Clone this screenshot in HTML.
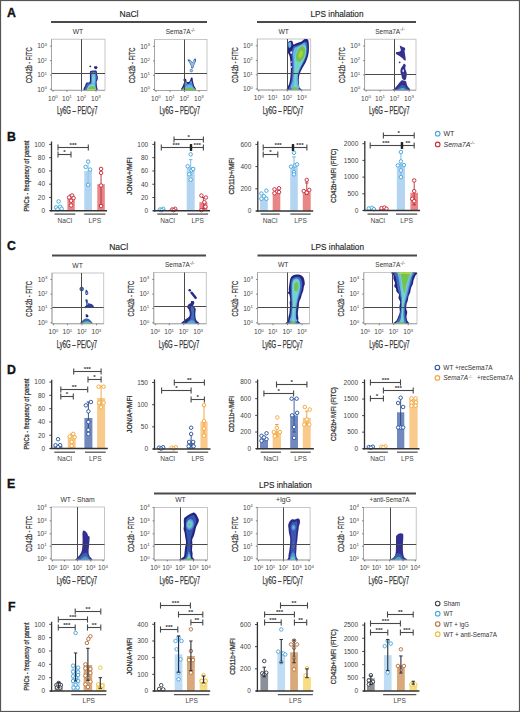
<!DOCTYPE html>
<html><head><meta charset="utf-8"><style>
html,body{margin:0;padding:0;background:#fff;}
svg{display:block;font-family:"Liberation Sans",sans-serif;}
</style></head><body>
<svg width="520" height="712" viewBox="0 0 520 712">
<rect x="0.5" y="0.5" width="519" height="711" fill="none" stroke="#555" stroke-width="1.2" />
<text x="7" y="17" font-size="12.3" text-anchor="start" fill="#111" font-weight="bold" stroke="#111" stroke-width="0.35">A</text>
<line x1="51" y1="22.0" x2="207" y2="22.0" stroke="#4a4a4a" stroke-width="1.8"/>
<text x="129.0" y="17" font-size="9" text-anchor="middle" fill="#262626" font-weight="normal" textLength="19" lengthAdjust="spacingAndGlyphs" stroke="#262626" stroke-width="0.15">NaCl</text>
<line x1="257" y1="22.0" x2="416" y2="22.0" stroke="#4a4a4a" stroke-width="1.8"/>
<text x="337" y="17" font-size="9" text-anchor="middle" fill="#262626" font-weight="normal" textLength="53" lengthAdjust="spacingAndGlyphs" stroke="#262626" stroke-width="0.15">LPS inhalation</text>
<rect x="51.5" y="39.2" width="53.5" height="51.099999999999994" fill="#fff" stroke="#b8b8b8" stroke-width="0.8" />
<clipPath id="c51_39"><rect x="51.5" y="39.2" width="53.5" height="51.099999999999994"/></clipPath><g clip-path="url(#c51_39)">
<path d="M90.20,71.20 C90.80,70.72 92.43,70.63 93.50,70.60 C94.57,70.57 96.00,70.37 96.60,71.00 C97.20,71.63 96.88,73.35 97.10,74.40 C97.32,75.45 97.83,76.37 97.90,77.30 C97.97,78.23 97.72,79.22 97.50,80.00 C97.28,80.78 96.70,81.00 96.60,82.00 C96.50,83.00 96.90,84.57 96.90,86.00 C96.90,87.43 98.75,89.83 96.60,90.60 C94.45,91.37 85.87,91.53 84.00,90.60 C82.13,89.67 84.97,86.33 85.40,85.00 C85.83,83.67 85.90,83.10 86.60,82.60 C87.30,82.10 89.05,82.93 89.60,82.00 C90.15,81.07 89.85,78.42 89.90,77.00 C89.95,75.58 89.85,74.47 89.90,73.50 C89.95,72.53 89.60,71.68 90.20,71.20 Z" fill="#26237f" stroke="none" stroke-width="1" />
<path d="M91.00,72.00 C91.43,71.60 92.67,71.55 93.50,71.60 C94.33,71.65 95.53,71.73 96.00,72.30 C96.47,72.87 96.13,74.13 96.30,75.00 C96.47,75.87 96.98,76.67 97.00,77.50 C97.02,78.33 96.60,79.25 96.40,80.00 C96.20,80.75 95.87,81.00 95.80,82.00 C95.73,83.00 96.00,84.57 96.00,86.00 C96.00,87.43 97.60,89.83 95.80,90.60 C94.00,91.37 86.77,91.43 85.20,90.60 C83.63,89.77 86.03,86.78 86.40,85.60 C86.77,84.42 86.70,83.97 87.40,83.50 C88.10,83.03 90.00,83.88 90.60,82.80 C91.20,81.72 90.95,78.47 91.00,77.00 C91.05,75.53 90.90,74.83 90.90,74.00 C90.90,73.17 90.57,72.40 91.00,72.00 Z" fill="#3e6cbd" stroke="none" stroke-width="1" />
<path d="M92.00,73.50 C92.45,72.67 93.92,72.58 94.50,73.00 C95.08,73.42 95.33,74.67 95.50,76.00 C95.67,77.33 95.55,79.33 95.50,81.00 C95.45,82.67 95.37,84.40 95.20,86.00 C95.03,87.60 95.78,89.83 94.50,90.60 C93.22,91.37 88.50,91.45 87.50,90.60 C86.50,89.75 87.87,86.63 88.50,85.50 C89.13,84.37 90.75,85.05 91.30,83.80 C91.85,82.55 91.68,79.72 91.80,78.00 C91.92,76.28 91.55,74.33 92.00,73.50 Z" fill="#69b6e6" stroke="none" stroke-width="1" />
<path d="M92.50,76.00 C92.80,75.00 93.87,75.33 94.20,76.00 C94.53,76.67 94.57,78.83 94.50,80.00 C94.43,81.17 94.15,82.67 93.80,83.00 C93.45,83.33 92.62,83.17 92.40,82.00 C92.18,80.83 92.20,77.00 92.50,76.00 Z" fill="#72d4cc" stroke="none" stroke-width="1" />
<path d="M87.30,90.60 C86.12,89.97 87.68,87.80 88.30,86.80 C88.92,85.80 90.08,85.00 91.00,84.60 C91.92,84.20 93.07,84.00 93.80,84.40 C94.53,84.80 95.13,85.97 95.40,87.00 C95.67,88.03 96.75,90.00 95.40,90.60 C94.05,91.20 88.48,91.23 87.30,90.60 Z" fill="#72d4cc" stroke="none" stroke-width="1" />
<path d="M88.00,90.60 C86.97,90.13 88.42,88.52 89.00,87.80 C89.58,87.08 90.67,86.52 91.50,86.30 C92.33,86.08 93.38,86.13 94.00,86.50 C94.62,86.87 95.00,87.82 95.20,88.50 C95.40,89.18 96.40,90.25 95.20,90.60 C94.00,90.95 89.03,91.07 88.00,90.60 Z" fill="#76c24e" stroke="none" stroke-width="1" />
<path d="M85.80,90.60 C84.55,90.37 86.72,89.43 88.00,89.20 C89.28,88.97 92.25,88.97 93.50,89.20 C94.75,89.43 96.78,90.37 95.50,90.60 C94.22,90.83 87.05,90.83 85.80,90.60 Z" fill="#cfe040" stroke="none" stroke-width="1" />
<ellipse cx="90.3" cy="66.4" rx="0.9" ry="0.8" fill="#26237f" transform="rotate(0 90.3 66.4)"/>
<path d="M94.00,66.80 C94.27,66.40 95.60,66.13 96.20,66.20 C96.80,66.27 97.60,66.70 97.60,67.20 C97.60,67.70 96.70,68.97 96.20,69.20 C95.70,69.43 94.97,69.00 94.60,68.60 C94.23,68.20 93.73,67.20 94.00,66.80 Z" fill="#26237f" stroke="none" stroke-width="1" />
</g>
<line x1="81.5" y1="39.2" x2="81.5" y2="90.3" stroke="#4a4a4a" stroke-width="1.0"/>
<line x1="51.5" y1="73.5" x2="105" y2="73.5" stroke="#4a4a4a" stroke-width="1.0"/>
<line x1="51.5" y1="39.2" x2="51.5" y2="90.3" stroke="#a0a0a0" stroke-width="0.9"/>
<line x1="51.5" y1="90.3" x2="105" y2="90.3" stroke="#a0a0a0" stroke-width="0.9"/>
<line x1="50.0" y1="89.3" x2="51.5" y2="89.3" stroke="#666" stroke-width="0.8"/>
<text x="47.0" y="91.6" font-size="6.6" text-anchor="end" fill="#444">10<tspan dy="-2.5" font-size="4.4">0</tspan></text>
<line x1="50.0" y1="75.1" x2="51.5" y2="75.1" stroke="#666" stroke-width="0.8"/>
<text x="47.0" y="77.39999999999999" font-size="6.6" text-anchor="end" fill="#444">10<tspan dy="-2.5" font-size="4.4">1</tspan></text>
<line x1="50.0" y1="60.699999999999996" x2="51.5" y2="60.699999999999996" stroke="#666" stroke-width="0.8"/>
<text x="47.0" y="62.99999999999999" font-size="6.6" text-anchor="end" fill="#444">10<tspan dy="-2.5" font-size="4.4">2</tspan></text>
<line x1="50.0" y1="46.099999999999994" x2="51.5" y2="46.099999999999994" stroke="#666" stroke-width="0.8"/>
<text x="47.0" y="48.39999999999999" font-size="6.6" text-anchor="end" fill="#444">10<tspan dy="-2.5" font-size="4.4">3</tspan></text>
<line x1="53.0" y1="90.3" x2="53.0" y2="91.8" stroke="#666" stroke-width="0.8"/>
<text x="52.9" y="100.6" font-size="6.6" text-anchor="middle" fill="#444">10<tspan dy="-2.5" font-size="4.4">0</tspan></text>
<line x1="67.0" y1="90.3" x2="67.0" y2="91.8" stroke="#666" stroke-width="0.8"/>
<text x="66.9" y="100.6" font-size="6.6" text-anchor="middle" fill="#444">10<tspan dy="-2.5" font-size="4.4">1</tspan></text>
<line x1="81.5" y1="90.3" x2="81.5" y2="91.8" stroke="#666" stroke-width="0.8"/>
<text x="81.4" y="100.6" font-size="6.6" text-anchor="middle" fill="#444">10<tspan dy="-2.5" font-size="4.4">2</tspan></text>
<line x1="96.0" y1="90.3" x2="96.0" y2="91.8" stroke="#666" stroke-width="0.8"/>
<text x="95.9" y="100.6" font-size="6.6" text-anchor="middle" fill="#444">10<tspan dy="-2.5" font-size="4.4">3</tspan></text>
<text x="28.8" y="65.25" font-size="8.9" text-anchor="middle" fill="#333" font-weight="normal" transform="rotate(-90 28.8 65.25)" textLength="35.5" lengthAdjust="spacingAndGlyphs" dominant-baseline="central" stroke="#333" stroke-width="0.25">CD42b - FITC</text>
<text x="77.25" y="114.19999999999999" font-size="10.1" text-anchor="middle" fill="#333" font-weight="normal" textLength="40.5" lengthAdjust="spacingAndGlyphs" stroke="#333" stroke-width="0.25">Ly6G – PE/Cy7</text>
<text x="77.95" y="34.1" font-size="6.8" text-anchor="middle" fill="#333" font-weight="normal" >WT</text>
<rect x="154.5" y="39.5" width="52.5" height="51.0" fill="#fff" stroke="#b8b8b8" stroke-width="0.8" />
<clipPath id="c154_39"><rect x="154.5" y="39.5" width="52.5" height="51.0"/></clipPath><g clip-path="url(#c154_39)">
<path d="M187.60,59.80 C187.63,59.32 188.75,59.37 189.40,59.60 C190.05,59.83 190.93,60.80 191.50,61.20 C192.07,61.60 192.35,62.37 192.80,62.00 C193.25,61.63 193.73,59.57 194.20,59.00 C194.67,58.43 195.30,58.27 195.60,58.60 C195.90,58.93 196.13,60.18 196.00,61.00 C195.87,61.82 195.17,62.58 194.80,63.50 C194.43,64.42 194.10,65.72 193.80,66.50 C193.50,67.28 193.40,67.92 193.00,68.20 C192.60,68.48 191.77,68.65 191.40,68.20 C191.03,67.75 191.17,66.45 190.80,65.50 C190.43,64.55 189.73,63.45 189.20,62.50 C188.67,61.55 187.57,60.28 187.60,59.80 Z" fill="#3a5aa8" stroke="none" stroke-width="1" />
<path d="M188.94,60.97 C188.97,60.61 189.77,60.65 190.24,60.83 C190.71,61.00 191.34,61.73 191.75,62.03 C192.16,62.33 192.36,62.90 192.69,62.62 C193.01,62.35 193.36,60.80 193.70,60.38 C194.03,59.95 194.49,59.83 194.70,60.08 C194.92,60.33 195.09,61.26 194.99,61.88 C194.90,62.49 194.39,63.06 194.13,63.75 C193.86,64.44 193.62,65.41 193.41,66.00 C193.19,66.59 193.12,67.06 192.83,67.28 C192.54,67.49 191.94,67.61 191.68,67.28 C191.42,66.94 191.51,65.96 191.25,65.25 C190.98,64.54 190.48,63.71 190.10,63.00 C189.71,62.29 188.92,61.34 188.94,60.97 Z" fill="#8fbbe0" stroke="none" stroke-width="1" />
<circle cx="191.3" cy="70.6" r="1.3" fill="#a8cce8" stroke="#4a6fae" stroke-width="0.7"/>
<path d="M181.80,90.60 C179.68,89.83 182.40,87.43 182.80,86.00 C183.20,84.57 184.10,83.00 184.20,82.00 C184.30,81.00 183.33,80.57 183.40,80.00 C183.47,79.43 184.13,78.70 184.60,78.60 C185.07,78.50 185.87,78.92 186.20,79.40 C186.53,79.88 186.13,81.07 186.60,81.50 C187.07,81.93 188.37,82.33 189.00,82.00 C189.63,81.67 190.03,80.23 190.40,79.50 C190.77,78.77 190.83,77.85 191.20,77.60 C191.57,77.35 192.32,77.43 192.60,78.00 C192.88,78.57 192.67,79.75 192.90,81.00 C193.13,82.25 193.57,83.90 194.00,85.50 C194.43,87.10 197.53,89.75 195.50,90.60 C193.47,91.45 183.92,91.37 181.80,90.60 Z" fill="#26237f" stroke="none" stroke-width="1" />
<path d="M183.24,89.82 C181.55,89.28 183.72,87.60 184.04,86.60 C184.36,85.60 185.08,84.50 185.16,83.80 C185.24,83.10 184.47,82.80 184.52,82.40 C184.57,82.00 185.11,81.49 185.48,81.42 C185.85,81.35 186.49,81.64 186.76,81.98 C187.03,82.32 186.71,83.15 187.08,83.45 C187.45,83.75 188.49,84.03 189.00,83.80 C189.51,83.57 189.83,82.56 190.12,82.05 C190.41,81.54 190.47,80.89 190.76,80.72 C191.05,80.55 191.65,80.60 191.88,81.00 C192.11,81.40 191.93,82.22 192.12,83.10 C192.31,83.97 192.65,85.13 193.00,86.25 C193.35,87.37 195.83,89.22 194.20,89.82 C192.57,90.41 184.93,90.36 183.24,89.82 Z" fill="#4d8fcf" stroke="none" stroke-width="1" />
<path d="M184.00,90.60 C182.63,89.92 185.08,87.43 186.00,86.50 C186.92,85.57 188.42,85.00 189.50,85.00 C190.58,85.00 191.72,85.57 192.50,86.50 C193.28,87.43 195.62,89.92 194.20,90.60 C192.78,91.28 185.37,91.28 184.00,90.60 Z" fill="#69b6e6" stroke="none" stroke-width="1" />
<path d="M181.80,90.60 C179.83,90.23 182.13,88.80 183.50,88.40 C184.87,88.00 188.17,88.17 190.00,88.20 C191.83,88.23 193.62,88.20 194.50,88.60 C195.38,89.00 197.42,90.27 195.30,90.60 C193.18,90.93 183.77,90.97 181.80,90.60 Z" fill="#76c24e" stroke="none" stroke-width="1" />
</g>
<line x1="184.5" y1="39.5" x2="184.5" y2="90.5" stroke="#4a4a4a" stroke-width="1.0"/>
<line x1="154.5" y1="73.5" x2="207" y2="73.5" stroke="#4a4a4a" stroke-width="1.0"/>
<line x1="154.5" y1="39.5" x2="154.5" y2="90.5" stroke="#a0a0a0" stroke-width="0.9"/>
<line x1="154.5" y1="90.5" x2="207" y2="90.5" stroke="#a0a0a0" stroke-width="0.9"/>
<line x1="153.0" y1="89.5" x2="154.5" y2="89.5" stroke="#666" stroke-width="0.8"/>
<text x="150.0" y="91.8" font-size="6.6" text-anchor="end" fill="#444">10<tspan dy="-2.5" font-size="4.4">0</tspan></text>
<line x1="153.0" y1="75.3" x2="154.5" y2="75.3" stroke="#666" stroke-width="0.8"/>
<text x="150.0" y="77.6" font-size="6.6" text-anchor="end" fill="#444">10<tspan dy="-2.5" font-size="4.4">1</tspan></text>
<line x1="153.0" y1="60.9" x2="154.5" y2="60.9" stroke="#666" stroke-width="0.8"/>
<text x="150.0" y="63.199999999999996" font-size="6.6" text-anchor="end" fill="#444">10<tspan dy="-2.5" font-size="4.4">2</tspan></text>
<line x1="153.0" y1="46.3" x2="154.5" y2="46.3" stroke="#666" stroke-width="0.8"/>
<text x="150.0" y="48.599999999999994" font-size="6.6" text-anchor="end" fill="#444">10<tspan dy="-2.5" font-size="4.4">3</tspan></text>
<line x1="156.0" y1="90.5" x2="156.0" y2="92.0" stroke="#666" stroke-width="0.8"/>
<text x="155.9" y="100.8" font-size="6.6" text-anchor="middle" fill="#444">10<tspan dy="-2.5" font-size="4.4">0</tspan></text>
<line x1="170.0" y1="90.5" x2="170.0" y2="92.0" stroke="#666" stroke-width="0.8"/>
<text x="169.9" y="100.8" font-size="6.6" text-anchor="middle" fill="#444">10<tspan dy="-2.5" font-size="4.4">1</tspan></text>
<line x1="184.5" y1="90.5" x2="184.5" y2="92.0" stroke="#666" stroke-width="0.8"/>
<text x="184.4" y="100.8" font-size="6.6" text-anchor="middle" fill="#444">10<tspan dy="-2.5" font-size="4.4">2</tspan></text>
<line x1="199.0" y1="90.5" x2="199.0" y2="92.0" stroke="#666" stroke-width="0.8"/>
<text x="198.9" y="100.8" font-size="6.6" text-anchor="middle" fill="#444">10<tspan dy="-2.5" font-size="4.4">3</tspan></text>
<text x="131.8" y="65.5" font-size="8.9" text-anchor="middle" fill="#333" font-weight="normal" transform="rotate(-90 131.8 65.5)" textLength="35.5" lengthAdjust="spacingAndGlyphs" dominant-baseline="central" stroke="#333" stroke-width="0.25">CD42b - FITC</text>
<text x="179.75" y="114.4" font-size="10.1" text-anchor="middle" fill="#333" font-weight="normal" textLength="40.5" lengthAdjust="spacingAndGlyphs" stroke="#333" stroke-width="0.25">Ly6G – PE/Cy7</text>
<text x="180.45" y="34.4" font-size="6.8" text-anchor="middle" fill="#333" font-weight="normal" textLength="29.5" lengthAdjust="spacingAndGlyphs" >Sema7A<tspan font-size="5" dy="-2.8">-/-</tspan></text>
<rect x="257.3" y="39" width="53.39999999999998" height="51" fill="#fff" stroke="#b8b8b8" stroke-width="0.8" />
<clipPath id="c257_39"><rect x="257.3" y="39" width="53.39999999999998" height="51"/></clipPath><g clip-path="url(#c257_39)">
<path d="M287.20,90.60 C285.17,89.42 288.77,85.77 289.30,83.50 C289.83,81.23 290.15,79.58 290.40,77.00 C290.65,74.42 290.90,71.33 290.80,68.00 C290.70,64.67 290.35,59.75 289.80,57.00 C289.25,54.25 287.97,53.42 287.50,51.50 C287.03,49.58 286.87,47.08 287.00,45.50 C287.13,43.92 287.43,42.75 288.30,42.00 C289.17,41.25 291.33,40.58 292.20,41.00 C293.07,41.42 292.87,44.08 293.50,44.50 C294.13,44.92 294.67,44.00 296.00,43.50 C297.33,43.00 300.00,42.25 301.50,41.50 C303.00,40.75 303.87,39.17 305.00,39.00 C306.13,38.83 307.67,38.42 308.30,40.50 C308.93,42.58 309.13,48.08 308.80,51.50 C308.47,54.92 307.52,57.95 306.30,61.00 C305.08,64.05 302.72,67.13 301.50,69.80 C300.28,72.47 299.38,74.23 299.00,77.00 C298.62,79.77 298.78,84.13 299.20,86.40 C299.62,88.67 303.50,89.90 301.50,90.60 C299.50,91.30 289.23,91.78 287.20,90.60 Z" fill="#26237f" stroke="none" stroke-width="1" />
<path d="M289.00,90.60 C287.58,89.33 290.50,85.43 291.00,83.00 C291.50,80.57 291.78,78.67 292.00,76.00 C292.22,73.33 292.30,70.00 292.30,67.00 C292.30,64.00 292.13,60.33 292.00,58.00 C291.87,55.67 291.25,54.83 291.50,53.00 C291.75,51.17 292.58,48.25 293.50,47.00 C294.42,45.75 295.58,46.08 297.00,45.50 C298.42,44.92 300.58,44.17 302.00,43.50 C303.42,42.83 304.62,41.42 305.50,41.50 C306.38,41.58 307.00,42.25 307.30,44.00 C307.60,45.75 307.68,49.33 307.30,52.00 C306.92,54.67 306.13,57.25 305.00,60.00 C303.87,62.75 301.70,65.83 300.50,68.50 C299.30,71.17 298.25,73.25 297.80,76.00 C297.35,78.75 297.52,82.57 297.80,85.00 C298.08,87.43 300.97,89.67 299.50,90.60 C298.03,91.53 290.42,91.87 289.00,90.60 Z" fill="#3e6cbd" stroke="none" stroke-width="1" />
<path d="M291.00,88.15 C289.87,86.99 292.20,83.40 292.60,81.16 C293.00,78.92 293.23,77.17 293.40,74.72 C293.57,72.27 293.64,69.20 293.64,66.44 C293.64,63.68 293.51,60.31 293.40,58.16 C293.29,56.01 292.80,55.25 293.00,53.56 C293.20,51.87 293.87,49.19 294.60,48.04 C295.33,46.89 296.27,47.20 297.40,46.66 C298.53,46.12 300.27,45.43 301.40,44.82 C302.53,44.21 303.49,42.90 304.20,42.98 C304.91,43.06 305.40,43.67 305.64,45.28 C305.88,46.89 305.95,50.19 305.64,52.64 C305.33,55.09 304.71,57.47 303.80,60.00 C302.89,62.53 301.16,65.37 300.20,67.82 C299.24,70.27 298.40,72.19 298.04,74.72 C297.68,77.25 297.81,80.76 298.04,83.00 C298.27,85.24 300.57,87.29 299.40,88.15 C298.23,89.01 292.13,89.32 291.00,88.15 Z" fill="#69b6e6" stroke="none" stroke-width="1" />
<path d="M294.00,90.00 C293.50,88.33 294.42,83.67 294.50,80.00 C294.58,76.33 294.42,71.83 294.50,68.00 C294.58,64.17 294.42,60.33 295.00,57.00 C295.58,53.67 296.67,49.92 298.00,48.00 C299.33,46.08 301.67,45.67 303.00,45.50 C304.33,45.33 305.58,45.25 306.00,47.00 C306.42,48.75 306.33,53.00 305.50,56.00 C304.67,59.00 302.42,62.00 301.00,65.00 C299.58,68.00 297.75,70.83 297.00,74.00 C296.25,77.17 296.42,81.33 296.50,84.00 C296.58,86.67 297.92,89.00 297.50,90.00 C297.08,91.00 294.50,91.67 294.00,90.00 Z" fill="#72d4cc" stroke="none" stroke-width="1" />
<ellipse cx="300.6" cy="54.2" rx="4.2" ry="8.2" fill="#76c24e" transform="rotate(18 300.6 54.2)"/>
<ellipse cx="300.6" cy="54.2" rx="2.0" ry="4.0" fill="#a6d23a" transform="rotate(18 300.6 54.2)"/>
<ellipse cx="291.2" cy="52.6" rx="0.9" ry="1.4" fill="#ffffff" transform="rotate(0 291.2 52.6)"/>
<ellipse cx="291.3" cy="67" rx="0.6" ry="1.0" fill="#ffffff" transform="rotate(0 291.3 67)"/>
<ellipse cx="291.1" cy="62" rx="0.5" ry="0.9" fill="#ffffff" transform="rotate(0 291.1 62)"/>
<path d="M291.50,90.60 C290.67,90.03 292.67,87.72 293.50,87.20 C294.33,86.68 295.67,86.93 296.50,87.50 C297.33,88.07 299.33,90.08 298.50,90.60 C297.67,91.12 292.33,91.17 291.50,90.60 Z" fill="#76c24e" stroke="none" stroke-width="1" />
<path d="M288.50,42.50 C288.93,41.97 290.35,41.72 290.80,42.30 C291.25,42.88 291.45,45.05 291.20,46.00 C290.95,46.95 289.80,48.08 289.30,48.00 C288.80,47.92 288.33,46.42 288.20,45.50 C288.07,44.58 288.07,43.03 288.50,42.50 Z" fill="#69b6e6" stroke="none" stroke-width="1" />
</g>
<line x1="287.5" y1="39" x2="287.5" y2="90" stroke="#4a4a4a" stroke-width="1.0"/>
<line x1="257.3" y1="73.5" x2="310.7" y2="73.5" stroke="#4a4a4a" stroke-width="1.0"/>
<line x1="257.3" y1="39" x2="257.3" y2="90" stroke="#a0a0a0" stroke-width="0.9"/>
<line x1="257.3" y1="90" x2="310.7" y2="90" stroke="#a0a0a0" stroke-width="0.9"/>
<line x1="255.8" y1="89" x2="257.3" y2="89" stroke="#666" stroke-width="0.8"/>
<text x="252.8" y="91.3" font-size="6.6" text-anchor="end" fill="#444">10<tspan dy="-2.5" font-size="4.4">0</tspan></text>
<line x1="255.8" y1="74.8" x2="257.3" y2="74.8" stroke="#666" stroke-width="0.8"/>
<text x="252.8" y="77.1" font-size="6.6" text-anchor="end" fill="#444">10<tspan dy="-2.5" font-size="4.4">1</tspan></text>
<line x1="255.8" y1="60.4" x2="257.3" y2="60.4" stroke="#666" stroke-width="0.8"/>
<text x="252.8" y="62.699999999999996" font-size="6.6" text-anchor="end" fill="#444">10<tspan dy="-2.5" font-size="4.4">2</tspan></text>
<line x1="255.8" y1="45.8" x2="257.3" y2="45.8" stroke="#666" stroke-width="0.8"/>
<text x="252.8" y="48.099999999999994" font-size="6.6" text-anchor="end" fill="#444">10<tspan dy="-2.5" font-size="4.4">3</tspan></text>
<line x1="258.8" y1="90" x2="258.8" y2="91.5" stroke="#666" stroke-width="0.8"/>
<text x="258.7" y="100.3" font-size="6.6" text-anchor="middle" fill="#444">10<tspan dy="-2.5" font-size="4.4">0</tspan></text>
<line x1="272.8" y1="90" x2="272.8" y2="91.5" stroke="#666" stroke-width="0.8"/>
<text x="272.7" y="100.3" font-size="6.6" text-anchor="middle" fill="#444">10<tspan dy="-2.5" font-size="4.4">1</tspan></text>
<line x1="287.3" y1="90" x2="287.3" y2="91.5" stroke="#666" stroke-width="0.8"/>
<text x="287.2" y="100.3" font-size="6.6" text-anchor="middle" fill="#444">10<tspan dy="-2.5" font-size="4.4">2</tspan></text>
<line x1="301.8" y1="90" x2="301.8" y2="91.5" stroke="#666" stroke-width="0.8"/>
<text x="301.7" y="100.3" font-size="6.6" text-anchor="middle" fill="#444">10<tspan dy="-2.5" font-size="4.4">3</tspan></text>
<text x="234.60000000000002" y="65.0" font-size="8.9" text-anchor="middle" fill="#333" font-weight="normal" transform="rotate(-90 234.60000000000002 65.0)" textLength="35.5" lengthAdjust="spacingAndGlyphs" dominant-baseline="central" stroke="#333" stroke-width="0.25">CD42b - FITC</text>
<text x="283.0" y="113.9" font-size="10.1" text-anchor="middle" fill="#333" font-weight="normal" textLength="40.5" lengthAdjust="spacingAndGlyphs" stroke="#333" stroke-width="0.25">Ly6G – PE/Cy7</text>
<text x="283.7" y="33.9" font-size="6.8" text-anchor="middle" fill="#333" font-weight="normal" >WT</text>
<rect x="364.6" y="39.2" width="51.39999999999998" height="51.0" fill="#fff" stroke="#b8b8b8" stroke-width="0.8" />
<clipPath id="c364_39"><rect x="364.6" y="39.2" width="51.39999999999998" height="51.0"/></clipPath><g clip-path="url(#c364_39)">
<path d="M399.90,45.50 C400.07,45.27 400.37,45.85 401.10,46.20 C401.83,46.55 403.60,47.13 404.30,47.60 C405.00,48.07 405.25,48.42 405.30,49.00 C405.35,49.58 404.60,49.93 404.60,51.10 C404.60,52.27 405.12,54.53 405.30,56.00 C405.48,57.47 405.87,59.18 405.70,59.90 C405.53,60.62 404.83,60.58 404.30,60.30 C403.77,60.02 403.38,58.97 402.50,58.20 C401.62,57.43 400.05,56.42 399.00,55.70 C397.95,54.98 396.67,54.48 396.20,53.90 C395.73,53.32 395.78,52.55 396.20,52.20 C396.62,51.85 397.93,52.10 398.70,51.80 C399.47,51.50 400.57,51.10 400.80,50.40 C401.03,49.70 400.25,48.42 400.10,47.60 C399.95,46.78 399.73,45.73 399.90,45.50 Z" fill="#34308f" stroke="none" stroke-width="1" />
<ellipse cx="399.7" cy="62.4" rx="0.9" ry="0.8" fill="#34308f" transform="rotate(0 399.7 62.4)"/>
<path d="M403.90,63.80 C404.38,63.75 405.47,64.38 405.70,65.20 C405.93,66.02 405.13,67.42 405.30,68.70 C405.47,69.98 406.52,71.50 406.70,72.90 C406.88,74.30 406.63,75.93 406.40,77.10 C406.17,78.27 405.95,79.58 405.30,79.90 C404.65,80.22 403.13,79.73 402.50,79.00 C401.87,78.27 401.85,76.75 401.50,75.50 C401.15,74.25 400.47,72.75 400.40,71.50 C400.33,70.25 400.70,69.00 401.10,68.00 C401.50,67.00 402.33,66.20 402.80,65.50 C403.27,64.80 403.42,63.85 403.90,63.80 Z" fill="#34308f" stroke="none" stroke-width="1" />
<ellipse cx="403.2" cy="70.8" rx="0.8" ry="1.5" fill="#fff" opacity="0.85"/>
<path d="M393.20,90.60 C390.88,90.08 394.53,88.73 395.50,87.50 C396.47,86.27 397.95,84.40 399.00,83.20 C400.05,82.00 400.93,80.73 401.80,80.30 C402.67,79.87 403.50,80.38 404.20,80.60 C404.90,80.82 405.50,80.78 406.00,81.60 C406.50,82.42 406.63,84.00 407.20,85.50 C407.77,87.00 411.73,89.75 409.40,90.60 C407.07,91.45 395.52,91.12 393.20,90.60 Z" fill="#34308f" stroke="none" stroke-width="1" />
<path d="M396.50,90.60 C395.12,90.03 398.00,88.13 399.00,87.20 C400.00,86.27 401.42,85.07 402.50,85.00 C403.58,84.93 404.70,85.87 405.50,86.80 C406.30,87.73 408.80,89.97 407.30,90.60 C405.80,91.23 397.88,91.17 396.50,90.60 Z" fill="#3b5fb0" stroke="none" stroke-width="1" />
<path d="M398.50,90.60 C397.62,90.23 399.58,88.80 400.50,88.40 C401.42,88.00 403.12,87.83 404.00,88.20 C404.88,88.57 406.72,90.20 405.80,90.60 C404.88,91.00 399.38,90.97 398.50,90.60 Z" fill="#4bb0c0" stroke="none" stroke-width="1" />
</g>
<line x1="394.5" y1="39.2" x2="394.5" y2="90.2" stroke="#4a4a4a" stroke-width="1.0"/>
<line x1="364.6" y1="74.5" x2="416" y2="74.5" stroke="#4a4a4a" stroke-width="1.0"/>
<line x1="364.6" y1="39.2" x2="364.6" y2="90.2" stroke="#a0a0a0" stroke-width="0.9"/>
<line x1="364.6" y1="90.2" x2="416" y2="90.2" stroke="#a0a0a0" stroke-width="0.9"/>
<line x1="363.1" y1="89.2" x2="364.6" y2="89.2" stroke="#666" stroke-width="0.8"/>
<text x="360.1" y="91.5" font-size="6.6" text-anchor="end" fill="#444">10<tspan dy="-2.5" font-size="4.4">0</tspan></text>
<line x1="363.1" y1="75.0" x2="364.6" y2="75.0" stroke="#666" stroke-width="0.8"/>
<text x="360.1" y="77.3" font-size="6.6" text-anchor="end" fill="#444">10<tspan dy="-2.5" font-size="4.4">1</tspan></text>
<line x1="363.1" y1="60.6" x2="364.6" y2="60.6" stroke="#666" stroke-width="0.8"/>
<text x="360.1" y="62.9" font-size="6.6" text-anchor="end" fill="#444">10<tspan dy="-2.5" font-size="4.4">2</tspan></text>
<line x1="363.1" y1="46.0" x2="364.6" y2="46.0" stroke="#666" stroke-width="0.8"/>
<text x="360.1" y="48.3" font-size="6.6" text-anchor="end" fill="#444">10<tspan dy="-2.5" font-size="4.4">3</tspan></text>
<line x1="366.1" y1="90.2" x2="366.1" y2="91.7" stroke="#666" stroke-width="0.8"/>
<text x="366.0" y="100.5" font-size="6.6" text-anchor="middle" fill="#444">10<tspan dy="-2.5" font-size="4.4">0</tspan></text>
<line x1="380.1" y1="90.2" x2="380.1" y2="91.7" stroke="#666" stroke-width="0.8"/>
<text x="380.0" y="100.5" font-size="6.6" text-anchor="middle" fill="#444">10<tspan dy="-2.5" font-size="4.4">1</tspan></text>
<line x1="394.6" y1="90.2" x2="394.6" y2="91.7" stroke="#666" stroke-width="0.8"/>
<text x="394.5" y="100.5" font-size="6.6" text-anchor="middle" fill="#444">10<tspan dy="-2.5" font-size="4.4">2</tspan></text>
<line x1="409.1" y1="90.2" x2="409.1" y2="91.7" stroke="#666" stroke-width="0.8"/>
<text x="409.0" y="100.5" font-size="6.6" text-anchor="middle" fill="#444">10<tspan dy="-2.5" font-size="4.4">3</tspan></text>
<text x="341.90000000000003" y="65.2" font-size="8.9" text-anchor="middle" fill="#333" font-weight="normal" transform="rotate(-90 341.90000000000003 65.2)" textLength="35.5" lengthAdjust="spacingAndGlyphs" dominant-baseline="central" stroke="#333" stroke-width="0.25">CD42b - FITC</text>
<text x="389.3" y="114.1" font-size="10.1" text-anchor="middle" fill="#333" font-weight="normal" textLength="40.5" lengthAdjust="spacingAndGlyphs" stroke="#333" stroke-width="0.25">Ly6G – PE/Cy7</text>
<text x="390.0" y="34.1" font-size="6.8" text-anchor="middle" fill="#333" font-weight="normal" textLength="29.5" lengthAdjust="spacingAndGlyphs" >Sema7A<tspan font-size="5" dy="-2.8">-/-</tspan></text>
<text x="7" y="141" font-size="12.3" text-anchor="start" fill="#111" font-weight="bold" stroke="#111" stroke-width="0.35">B</text>
<rect x="54.6" y="208.71099999999998" width="8.0" height="1.9890000000000043" fill="#b3d5f2" stroke="none" stroke-width="1" />
<rect x="67.4" y="198.10299999999998" width="7.3999999999999915" height="12.597000000000008" fill="#e98585" stroke="none" stroke-width="1" />
<rect x="84.3" y="170.92" width="7.700000000000003" height="39.78" fill="#b3d5f2" stroke="none" stroke-width="1" />
<rect x="97.3" y="184.18" width="7.5" height="26.519999999999982" fill="#e98585" stroke="none" stroke-width="1" />
<line x1="71.1" y1="194.78799999999998" x2="71.1" y2="198.10299999999998" stroke="#b52a38" stroke-width="0.9"/>
<line x1="69.39999999999999" y1="194.78799999999998" x2="72.8" y2="194.78799999999998" stroke="#b52a38" stroke-width="1.0"/>
<line x1="88.15" y1="160.312" x2="88.15" y2="183.517" stroke="#8fc3ea" stroke-width="0.9"/>
<line x1="86.45" y1="160.312" x2="89.85000000000001" y2="160.312" stroke="#8fc3ea" stroke-width="1.0"/>
<line x1="86.45" y1="183.517" x2="89.85000000000001" y2="183.517" stroke="#8fc3ea" stroke-width="1.0"/>
<line x1="101.05" y1="168.268" x2="101.05" y2="204.733" stroke="#b52a38" stroke-width="0.9"/>
<line x1="99.35" y1="168.268" x2="102.75" y2="168.268" stroke="#b52a38" stroke-width="1.0"/>
<line x1="99.35" y1="204.733" x2="102.75" y2="204.733" stroke="#b52a38" stroke-width="1.0"/>
<circle cx="58.6" cy="201.41799999999998" r="1.75" fill="#fff" stroke="#45a9dc" stroke-width="0.95"/>
<circle cx="56.1" cy="207.385" r="1.75" fill="#fff" stroke="#45a9dc" stroke-width="0.95"/>
<circle cx="60.1" cy="206.72199999999998" r="1.75" fill="#fff" stroke="#45a9dc" stroke-width="0.95"/>
<circle cx="61.6" cy="208.71099999999998" r="1.75" fill="#fff" stroke="#45a9dc" stroke-width="0.95"/>
<circle cx="57.6" cy="209.374" r="1.75" fill="#fff" stroke="#45a9dc" stroke-width="0.95"/>
<circle cx="69.1" cy="197.44" r="1.75" fill="#fff" stroke="#c92d3c" stroke-width="0.95"/>
<circle cx="72.1" cy="195.451" r="1.75" fill="#fff" stroke="#c92d3c" stroke-width="0.95"/>
<circle cx="73.6" cy="198.10299999999998" r="1.75" fill="#fff" stroke="#c92d3c" stroke-width="0.95"/>
<circle cx="71.1" cy="200.755" r="1.75" fill="#fff" stroke="#c92d3c" stroke-width="0.95"/>
<circle cx="71.1" cy="205.396" r="1.75" fill="#fff" stroke="#c92d3c" stroke-width="0.95"/>
<circle cx="88.15" cy="161.638" r="1.75" fill="#fff" stroke="#45a9dc" stroke-width="0.95"/>
<circle cx="85.65" cy="166.942" r="1.75" fill="#fff" stroke="#45a9dc" stroke-width="0.95"/>
<circle cx="90.15" cy="169.594" r="1.75" fill="#fff" stroke="#45a9dc" stroke-width="0.95"/>
<circle cx="88.15" cy="184.843" r="1.75" fill="#fff" stroke="#45a9dc" stroke-width="0.95"/>
<circle cx="101.05" cy="168.931" r="1.75" fill="#fff" stroke="#c92d3c" stroke-width="0.95"/>
<circle cx="101.05" cy="172.909" r="1.75" fill="#fff" stroke="#c92d3c" stroke-width="0.95"/>
<circle cx="101.05" cy="185.506" r="1.75" fill="#fff" stroke="#c92d3c" stroke-width="0.95"/>
<circle cx="101.05" cy="206.059" r="1.75" fill="#fff" stroke="#c92d3c" stroke-width="0.95"/>
<line x1="51.5" y1="141.5" x2="51.5" y2="211.29999999999998" stroke="#333" stroke-width="1.3"/>
<line x1="50.0" y1="210.7" x2="107" y2="210.7" stroke="#333" stroke-width="1.6"/>
<line x1="49.1" y1="210.7" x2="51.5" y2="210.7" stroke="#333" stroke-width="0.9"/>
<text x="45.0" y="213.0" font-size="6.5" text-anchor="end" fill="#444" font-weight="normal" >0</text>
<line x1="49.1" y1="197.44" x2="51.5" y2="197.44" stroke="#333" stroke-width="0.9"/>
<text x="45.0" y="199.74" font-size="6.5" text-anchor="end" fill="#444" font-weight="normal" >20</text>
<line x1="49.1" y1="184.18" x2="51.5" y2="184.18" stroke="#333" stroke-width="0.9"/>
<text x="45.0" y="186.48000000000002" font-size="6.5" text-anchor="end" fill="#444" font-weight="normal" >40</text>
<line x1="49.1" y1="170.92" x2="51.5" y2="170.92" stroke="#333" stroke-width="0.9"/>
<text x="45.0" y="173.22" font-size="6.5" text-anchor="end" fill="#444" font-weight="normal" >60</text>
<line x1="49.1" y1="157.66" x2="51.5" y2="157.66" stroke="#333" stroke-width="0.9"/>
<text x="45.0" y="159.96" font-size="6.5" text-anchor="end" fill="#444" font-weight="normal" >80</text>
<line x1="49.1" y1="144.4" x2="51.5" y2="144.4" stroke="#333" stroke-width="0.9"/>
<text x="45.0" y="146.70000000000002" font-size="6.5" text-anchor="end" fill="#444" font-weight="normal" >100</text>
<text x="26.5" y="176.1" font-size="7.9" text-anchor="middle" fill="#333" font-weight="normal" transform="rotate(-90 26.5 176.1)" textLength="71" lengthAdjust="spacingAndGlyphs" dominant-baseline="central" stroke="#333" stroke-width="0.28">PNCs - frequency of parent</text>
<line x1="58" y1="147.5" x2="88.3" y2="147.5" stroke="#484848" stroke-width="1.1"/>
<line x1="58" y1="144.4" x2="58" y2="150.6" stroke="#484848" stroke-width="1.1"/>
<line x1="88.3" y1="144.4" x2="88.3" y2="150.6" stroke="#484848" stroke-width="1.1"/>
<text x="73.15" y="146.6" font-size="6.2" text-anchor="middle" fill="#333" font-weight="bold" >***</text>
<line x1="58" y1="154.5" x2="71" y2="154.5" stroke="#484848" stroke-width="1.1"/>
<line x1="58" y1="151.4" x2="58" y2="157.6" stroke="#484848" stroke-width="1.1"/>
<line x1="71" y1="151.4" x2="71" y2="157.6" stroke="#484848" stroke-width="1.1"/>
<text x="64.5" y="153.6" font-size="6.2" text-anchor="middle" fill="#333" font-weight="bold" >*</text>
<line x1="54.5" y1="214.1" x2="75.3" y2="214.1" stroke="#555" stroke-width="1.3"/>
<text x="64.9" y="222.8" font-size="6.6" text-anchor="middle" fill="#444" font-weight="normal" >NaCl</text>
<line x1="84.2" y1="214.1" x2="105.4" y2="214.1" stroke="#555" stroke-width="1.3"/>
<text x="94.80000000000001" y="222.8" font-size="6.6" text-anchor="middle" fill="#444" font-weight="normal" >LPS</text>
<rect x="157.3" y="209.472" width="8.699999999999989" height="1.328000000000003" fill="#b3d5f2" stroke="none" stroke-width="1" />
<rect x="169.4" y="209.472" width="8.599999999999994" height="1.328000000000003" fill="#e98585" stroke="none" stroke-width="1" />
<rect x="186.7" y="166.976" width="8.0" height="43.82400000000001" fill="#b3d5f2" stroke="none" stroke-width="1" />
<rect x="199.4" y="202.168" width="8.0" height="8.632000000000005" fill="#e98585" stroke="none" stroke-width="1" />
<line x1="190.7" y1="159.67200000000003" x2="190.7" y2="174.94400000000002" stroke="#6fb4e4" stroke-width="0.9"/>
<line x1="189.0" y1="159.67200000000003" x2="192.39999999999998" y2="159.67200000000003" stroke="#6fb4e4" stroke-width="1.0"/>
<line x1="189.0" y1="174.94400000000002" x2="192.39999999999998" y2="174.94400000000002" stroke="#6fb4e4" stroke-width="1.0"/>
<line x1="203.4" y1="197.52" x2="203.4" y2="208.80800000000002" stroke="#b52a38" stroke-width="0.9"/>
<line x1="201.70000000000002" y1="197.52" x2="205.1" y2="197.52" stroke="#b52a38" stroke-width="1.0"/>
<line x1="201.70000000000002" y1="208.80800000000002" x2="205.1" y2="208.80800000000002" stroke="#b52a38" stroke-width="1.0"/>
<circle cx="160.15" cy="209.472" r="1.75" fill="#fff" stroke="#45a9dc" stroke-width="0.95"/>
<circle cx="163.15" cy="208.80800000000002" r="1.75" fill="#fff" stroke="#45a9dc" stroke-width="0.95"/>
<circle cx="161.65" cy="210.13600000000002" r="1.75" fill="#fff" stroke="#45a9dc" stroke-width="0.95"/>
<circle cx="172.2" cy="209.472" r="1.75" fill="#fff" stroke="#c92d3c" stroke-width="0.95"/>
<circle cx="175.2" cy="208.80800000000002" r="1.75" fill="#fff" stroke="#c92d3c" stroke-width="0.95"/>
<circle cx="173.7" cy="210.13600000000002" r="1.75" fill="#fff" stroke="#c92d3c" stroke-width="0.95"/>
<circle cx="190.7" cy="154.36" r="1.75" fill="#fff" stroke="#45a9dc" stroke-width="0.95"/>
<circle cx="187.7" cy="166.312" r="1.75" fill="#fff" stroke="#45a9dc" stroke-width="0.95"/>
<circle cx="191.7" cy="170.296" r="1.75" fill="#fff" stroke="#45a9dc" stroke-width="0.95"/>
<circle cx="193.2" cy="168.96800000000002" r="1.75" fill="#fff" stroke="#45a9dc" stroke-width="0.95"/>
<circle cx="189.2" cy="174.28" r="1.75" fill="#fff" stroke="#45a9dc" stroke-width="0.95"/>
<circle cx="190.7" cy="179.592" r="1.75" fill="#fff" stroke="#45a9dc" stroke-width="0.95"/>
<circle cx="201.4" cy="195.52800000000002" r="1.75" fill="#fff" stroke="#c92d3c" stroke-width="0.95"/>
<circle cx="205.9" cy="197.52" r="1.75" fill="#fff" stroke="#c92d3c" stroke-width="0.95"/>
<circle cx="204.4" cy="202.168" r="1.75" fill="#fff" stroke="#c92d3c" stroke-width="0.95"/>
<circle cx="205.4" cy="206.816" r="1.75" fill="#fff" stroke="#c92d3c" stroke-width="0.95"/>
<circle cx="201.4" cy="210.13600000000002" r="1.75" fill="#fff" stroke="#c92d3c" stroke-width="0.95"/>
<line x1="154.7" y1="141.5" x2="154.7" y2="211.4" stroke="#333" stroke-width="1.3"/>
<line x1="153.2" y1="210.8" x2="210" y2="210.8" stroke="#333" stroke-width="1.6"/>
<line x1="152.29999999999998" y1="210.8" x2="154.7" y2="210.8" stroke="#333" stroke-width="0.9"/>
<text x="148.2" y="213.10000000000002" font-size="6.5" text-anchor="end" fill="#444" font-weight="normal" >0</text>
<line x1="152.29999999999998" y1="197.52" x2="154.7" y2="197.52" stroke="#333" stroke-width="0.9"/>
<text x="148.2" y="199.82000000000002" font-size="6.5" text-anchor="end" fill="#444" font-weight="normal" >20</text>
<line x1="152.29999999999998" y1="184.24" x2="154.7" y2="184.24" stroke="#333" stroke-width="0.9"/>
<text x="148.2" y="186.54000000000002" font-size="6.5" text-anchor="end" fill="#444" font-weight="normal" >40</text>
<line x1="152.29999999999998" y1="170.96" x2="154.7" y2="170.96" stroke="#333" stroke-width="0.9"/>
<text x="148.2" y="173.26000000000002" font-size="6.5" text-anchor="end" fill="#444" font-weight="normal" >60</text>
<line x1="152.29999999999998" y1="157.68" x2="154.7" y2="157.68" stroke="#333" stroke-width="0.9"/>
<text x="148.2" y="159.98000000000002" font-size="6.5" text-anchor="end" fill="#444" font-weight="normal" >80</text>
<line x1="152.29999999999998" y1="144.4" x2="154.7" y2="144.4" stroke="#333" stroke-width="0.9"/>
<text x="148.2" y="146.70000000000002" font-size="6.5" text-anchor="end" fill="#444" font-weight="normal" >100</text>
<text x="129.3" y="176.15" font-size="7.9" text-anchor="middle" fill="#333" font-weight="normal" transform="rotate(-90 129.3 176.15)" textLength="37.5" lengthAdjust="spacingAndGlyphs" dominant-baseline="central" stroke="#333" stroke-width="0.28">JON/A+/MFI</text>
<line x1="174" y1="139.5" x2="203.4" y2="139.5" stroke="#484848" stroke-width="1.1"/>
<line x1="174" y1="136.4" x2="174" y2="142.6" stroke="#484848" stroke-width="1.1"/>
<line x1="203.4" y1="136.4" x2="203.4" y2="142.6" stroke="#484848" stroke-width="1.1"/>
<text x="188.7" y="138.6" font-size="6.2" text-anchor="middle" fill="#333" font-weight="bold" >*</text>
<line x1="161.3" y1="147.5" x2="191" y2="147.5" stroke="#484848" stroke-width="1.1"/>
<line x1="161.3" y1="144.4" x2="161.3" y2="150.6" stroke="#484848" stroke-width="1.1"/>
<line x1="191" y1="144.4" x2="191" y2="150.6" stroke="#484848" stroke-width="1.1"/>
<text x="176.15" y="146.6" font-size="6.2" text-anchor="middle" fill="#333" font-weight="bold" >***</text>
<line x1="191" y1="147.5" x2="203.4" y2="147.5" stroke="#484848" stroke-width="1.1"/>
<line x1="191" y1="144.4" x2="191" y2="150.6" stroke="#484848" stroke-width="1.1"/>
<line x1="203.4" y1="144.4" x2="203.4" y2="150.6" stroke="#484848" stroke-width="1.1"/>
<text x="197.2" y="146.6" font-size="6.2" text-anchor="middle" fill="#333" font-weight="bold" >***</text>
<rect x="189.8" y="144.1" width="2.4" height="6.8" fill="#222" stroke="none" stroke-width="1" />
<line x1="157.3" y1="214.1" x2="178" y2="214.1" stroke="#555" stroke-width="1.3"/>
<text x="167.65" y="222.8" font-size="6.6" text-anchor="middle" fill="#444" font-weight="normal" >NaCl</text>
<line x1="187.4" y1="214.1" x2="208" y2="214.1" stroke="#555" stroke-width="1.3"/>
<text x="197.7" y="222.8" font-size="6.6" text-anchor="middle" fill="#444" font-weight="normal" >LPS</text>
<rect x="260" y="196.57" width="7.800000000000011" height="14.430000000000007" fill="#b3d5f2" stroke="none" stroke-width="1" />
<rect x="272.7" y="192.13" width="7.600000000000023" height="18.870000000000005" fill="#e98585" stroke="none" stroke-width="1" />
<rect x="290.2" y="166.04500000000002" width="7.600000000000023" height="44.954999999999984" fill="#b3d5f2" stroke="none" stroke-width="1" />
<rect x="302.8" y="191.575" width="7.899999999999977" height="19.42500000000001" fill="#e98585" stroke="none" stroke-width="1" />
<line x1="294.0" y1="156.943" x2="294.0" y2="173.26" stroke="#6fb4e4" stroke-width="0.9"/>
<line x1="292.3" y1="156.943" x2="295.7" y2="156.943" stroke="#6fb4e4" stroke-width="1.0"/>
<line x1="292.3" y1="173.26" x2="295.7" y2="173.26" stroke="#6fb4e4" stroke-width="1.0"/>
<line x1="306.75" y1="182.917" x2="306.75" y2="194.35" stroke="#b52a38" stroke-width="0.9"/>
<line x1="305.05" y1="182.917" x2="308.45" y2="182.917" stroke="#b52a38" stroke-width="1.0"/>
<line x1="305.05" y1="194.35" x2="308.45" y2="194.35" stroke="#b52a38" stroke-width="1.0"/>
<circle cx="261.4" cy="193.573" r="1.75" fill="#fff" stroke="#45a9dc" stroke-width="0.95"/>
<circle cx="266.4" cy="190.687" r="1.75" fill="#fff" stroke="#45a9dc" stroke-width="0.95"/>
<circle cx="261.4" cy="198.79" r="1.75" fill="#fff" stroke="#45a9dc" stroke-width="0.95"/>
<circle cx="266.4" cy="198.79" r="1.75" fill="#fff" stroke="#45a9dc" stroke-width="0.95"/>
<circle cx="263.9" cy="196.237" r="1.75" fill="#fff" stroke="#45a9dc" stroke-width="0.95"/>
<circle cx="274.5" cy="189.35500000000002" r="1.75" fill="#fff" stroke="#c92d3c" stroke-width="0.95"/>
<circle cx="279.0" cy="188.245" r="1.75" fill="#fff" stroke="#c92d3c" stroke-width="0.95"/>
<circle cx="277.0" cy="191.575" r="1.75" fill="#fff" stroke="#c92d3c" stroke-width="0.95"/>
<circle cx="274.5" cy="193.24" r="1.75" fill="#fff" stroke="#c92d3c" stroke-width="0.95"/>
<circle cx="279.0" cy="192.13" r="1.75" fill="#fff" stroke="#c92d3c" stroke-width="0.95"/>
<circle cx="294.0" cy="152.725" r="1.75" fill="#fff" stroke="#45a9dc" stroke-width="0.95"/>
<circle cx="291.0" cy="166.60000000000002" r="1.75" fill="#fff" stroke="#45a9dc" stroke-width="0.95"/>
<circle cx="295.0" cy="165.49" r="1.75" fill="#fff" stroke="#45a9dc" stroke-width="0.95"/>
<circle cx="297.0" cy="164.38" r="1.75" fill="#fff" stroke="#45a9dc" stroke-width="0.95"/>
<circle cx="294.0" cy="172.15" r="1.75" fill="#fff" stroke="#45a9dc" stroke-width="0.95"/>
<circle cx="294.0" cy="174.37" r="1.75" fill="#fff" stroke="#45a9dc" stroke-width="0.95"/>
<circle cx="306.75" cy="179.92000000000002" r="1.75" fill="#fff" stroke="#c92d3c" stroke-width="0.95"/>
<circle cx="303.75" cy="191.02" r="1.75" fill="#fff" stroke="#c92d3c" stroke-width="0.95"/>
<circle cx="309.25" cy="189.91" r="1.75" fill="#fff" stroke="#c92d3c" stroke-width="0.95"/>
<circle cx="306.75" cy="192.685" r="1.75" fill="#fff" stroke="#c92d3c" stroke-width="0.95"/>
<line x1="257.8" y1="141.3" x2="257.8" y2="211.6" stroke="#333" stroke-width="1.3"/>
<line x1="256.3" y1="211" x2="313.2" y2="211" stroke="#333" stroke-width="1.6"/>
<line x1="255.4" y1="211.0" x2="257.8" y2="211.0" stroke="#333" stroke-width="0.9"/>
<text x="251.3" y="213.3" font-size="6.5" text-anchor="end" fill="#444" font-weight="normal" >0</text>
<line x1="255.4" y1="188.8" x2="257.8" y2="188.8" stroke="#333" stroke-width="0.9"/>
<text x="251.3" y="191.10000000000002" font-size="6.5" text-anchor="end" fill="#444" font-weight="normal" >200</text>
<line x1="255.4" y1="166.60000000000002" x2="257.8" y2="166.60000000000002" stroke="#333" stroke-width="0.9"/>
<text x="251.3" y="168.90000000000003" font-size="6.5" text-anchor="end" fill="#444" font-weight="normal" >400</text>
<line x1="255.4" y1="144.4" x2="257.8" y2="144.4" stroke="#333" stroke-width="0.9"/>
<text x="251.3" y="146.70000000000002" font-size="6.5" text-anchor="end" fill="#444" font-weight="normal" >600</text>
<text x="231.10000000000002" y="176.15" font-size="7.9" text-anchor="middle" fill="#333" font-weight="normal" transform="rotate(-90 231.10000000000002 176.15)" textLength="36.5" lengthAdjust="spacingAndGlyphs" dominant-baseline="central" stroke="#333" stroke-width="0.28">CD11b+/MFI</text>
<line x1="263.2" y1="147.5" x2="293" y2="147.5" stroke="#484848" stroke-width="1.1"/>
<line x1="263.2" y1="144.4" x2="263.2" y2="150.6" stroke="#484848" stroke-width="1.1"/>
<line x1="293" y1="144.4" x2="293" y2="150.6" stroke="#484848" stroke-width="1.1"/>
<text x="278.1" y="146.6" font-size="6.2" text-anchor="middle" fill="#333" font-weight="bold" >***</text>
<line x1="293" y1="147.5" x2="306.9" y2="147.5" stroke="#484848" stroke-width="1.1"/>
<line x1="293" y1="144.4" x2="293" y2="150.6" stroke="#484848" stroke-width="1.1"/>
<line x1="306.9" y1="144.4" x2="306.9" y2="150.6" stroke="#484848" stroke-width="1.1"/>
<text x="299.95" y="146.6" font-size="6.2" text-anchor="middle" fill="#333" font-weight="bold" >***</text>
<line x1="263.2" y1="154.5" x2="277.8" y2="154.5" stroke="#484848" stroke-width="1.1"/>
<line x1="263.2" y1="151.4" x2="263.2" y2="157.6" stroke="#484848" stroke-width="1.1"/>
<line x1="277.8" y1="151.4" x2="277.8" y2="157.6" stroke="#484848" stroke-width="1.1"/>
<text x="270.5" y="153.6" font-size="6.2" text-anchor="middle" fill="#333" font-weight="bold" >*</text>
<rect x="291.8" y="144.1" width="2.4" height="6.8" fill="#222" stroke="none" stroke-width="1" />
<line x1="260.7" y1="214.1" x2="279.7" y2="214.1" stroke="#555" stroke-width="1.3"/>
<text x="270.2" y="222.8" font-size="6.6" text-anchor="middle" fill="#444" font-weight="normal" >NaCl</text>
<line x1="290.4" y1="214.1" x2="310.7" y2="214.1" stroke="#555" stroke-width="1.3"/>
<text x="300.54999999999995" y="222.8" font-size="6.6" text-anchor="middle" fill="#444" font-weight="normal" >LPS</text>
<rect x="366.8" y="208.83" width="8.199999999999989" height="1.6699999999999875" fill="#b3d5f2" stroke="none" stroke-width="1" />
<rect x="379" y="208.496" width="9" height="2.0039999999999907" fill="#e98585" stroke="none" stroke-width="1" />
<rect x="396.8" y="163.74" width="8.199999999999989" height="46.75999999999999" fill="#b3d5f2" stroke="none" stroke-width="1" />
<rect x="410.4" y="192.798" width="7.600000000000023" height="17.701999999999998" fill="#e98585" stroke="none" stroke-width="1" />
<line x1="400.9" y1="152.04999999999998" x2="400.9" y2="177.1" stroke="#6fb4e4" stroke-width="0.9"/>
<line x1="399.2" y1="152.04999999999998" x2="402.59999999999997" y2="152.04999999999998" stroke="#6fb4e4" stroke-width="1.0"/>
<line x1="399.2" y1="177.1" x2="402.59999999999997" y2="177.1" stroke="#6fb4e4" stroke-width="1.0"/>
<line x1="414.2" y1="179.772" x2="414.2" y2="204.822" stroke="#b52a38" stroke-width="0.9"/>
<line x1="412.5" y1="179.772" x2="415.9" y2="179.772" stroke="#b52a38" stroke-width="1.0"/>
<line x1="412.5" y1="204.822" x2="415.9" y2="204.822" stroke="#b52a38" stroke-width="1.0"/>
<circle cx="368.9" cy="208.496" r="1.75" fill="#fff" stroke="#45a9dc" stroke-width="0.95"/>
<circle cx="371.9" cy="207.828" r="1.75" fill="#fff" stroke="#45a9dc" stroke-width="0.95"/>
<circle cx="373.9" cy="209.164" r="1.75" fill="#fff" stroke="#45a9dc" stroke-width="0.95"/>
<circle cx="381.5" cy="208.162" r="1.75" fill="#fff" stroke="#c92d3c" stroke-width="0.95"/>
<circle cx="384.5" cy="207.494" r="1.75" fill="#fff" stroke="#c92d3c" stroke-width="0.95"/>
<circle cx="386.5" cy="208.83" r="1.75" fill="#fff" stroke="#c92d3c" stroke-width="0.95"/>
<circle cx="400.9" cy="152.04999999999998" r="1.75" fill="#fff" stroke="#45a9dc" stroke-width="0.95"/>
<circle cx="400.9" cy="161.402" r="1.75" fill="#fff" stroke="#45a9dc" stroke-width="0.95"/>
<circle cx="397.9" cy="165.41" r="1.75" fill="#fff" stroke="#45a9dc" stroke-width="0.95"/>
<circle cx="403.9" cy="165.076" r="1.75" fill="#fff" stroke="#45a9dc" stroke-width="0.95"/>
<circle cx="400.9" cy="170.42" r="1.75" fill="#fff" stroke="#45a9dc" stroke-width="0.95"/>
<circle cx="400.9" cy="177.1" r="1.75" fill="#fff" stroke="#45a9dc" stroke-width="0.95"/>
<circle cx="414.2" cy="180.44" r="1.75" fill="#fff" stroke="#c92d3c" stroke-width="0.95"/>
<circle cx="414.2" cy="191.128" r="1.75" fill="#fff" stroke="#c92d3c" stroke-width="0.95"/>
<circle cx="412.2" cy="198.81" r="1.75" fill="#fff" stroke="#c92d3c" stroke-width="0.95"/>
<circle cx="414.2" cy="201.148" r="1.75" fill="#fff" stroke="#c92d3c" stroke-width="0.95"/>
<line x1="364.8" y1="141" x2="364.8" y2="211.1" stroke="#333" stroke-width="1.3"/>
<line x1="363.3" y1="210.5" x2="420" y2="210.5" stroke="#333" stroke-width="1.6"/>
<line x1="362.40000000000003" y1="210.5" x2="364.8" y2="210.5" stroke="#333" stroke-width="0.9"/>
<text x="358.3" y="212.8" font-size="6.5" text-anchor="end" fill="#444" font-weight="normal" >0</text>
<line x1="362.40000000000003" y1="193.8" x2="364.8" y2="193.8" stroke="#333" stroke-width="0.9"/>
<text x="358.3" y="196.10000000000002" font-size="6.5" text-anchor="end" fill="#444" font-weight="normal" >500</text>
<line x1="362.40000000000003" y1="177.1" x2="364.8" y2="177.1" stroke="#333" stroke-width="0.9"/>
<text x="358.3" y="179.4" font-size="6.5" text-anchor="end" fill="#444" font-weight="normal" >1000</text>
<line x1="362.40000000000003" y1="160.39999999999998" x2="364.8" y2="160.39999999999998" stroke="#333" stroke-width="0.9"/>
<text x="358.3" y="162.7" font-size="6.5" text-anchor="end" fill="#444" font-weight="normal" >1500</text>
<line x1="362.40000000000003" y1="143.7" x2="364.8" y2="143.7" stroke="#333" stroke-width="0.9"/>
<text x="358.3" y="146.0" font-size="6.5" text-anchor="end" fill="#444" font-weight="normal" >2000</text>
<text x="333.6" y="175.75" font-size="7.9" text-anchor="middle" fill="#333" font-weight="normal" transform="rotate(-90 333.6 175.75)" textLength="54" lengthAdjust="spacingAndGlyphs" dominant-baseline="central" stroke="#333" stroke-width="0.28">CD42b+/MFI (FITC)</text>
<line x1="383.4" y1="135.5" x2="414.2" y2="135.5" stroke="#484848" stroke-width="1.1"/>
<line x1="383.4" y1="132.4" x2="383.4" y2="138.6" stroke="#484848" stroke-width="1.1"/>
<line x1="414.2" y1="132.4" x2="414.2" y2="138.6" stroke="#484848" stroke-width="1.1"/>
<text x="398.79999999999995" y="134.6" font-size="6.2" text-anchor="middle" fill="#333" font-weight="bold" >*</text>
<line x1="370.2" y1="145.5" x2="401.5" y2="145.5" stroke="#484848" stroke-width="1.1"/>
<line x1="370.2" y1="142.4" x2="370.2" y2="148.6" stroke="#484848" stroke-width="1.1"/>
<line x1="401.5" y1="142.4" x2="401.5" y2="148.6" stroke="#484848" stroke-width="1.1"/>
<text x="385.85" y="144.6" font-size="6.2" text-anchor="middle" fill="#333" font-weight="bold" >***</text>
<line x1="401.5" y1="145.5" x2="414.2" y2="145.5" stroke="#484848" stroke-width="1.1"/>
<line x1="401.5" y1="142.4" x2="401.5" y2="148.6" stroke="#484848" stroke-width="1.1"/>
<line x1="414.2" y1="142.4" x2="414.2" y2="148.6" stroke="#484848" stroke-width="1.1"/>
<text x="407.85" y="144.6" font-size="6.2" text-anchor="middle" fill="#333" font-weight="bold" >**</text>
<rect x="400.8" y="142.1" width="2.4" height="6.8" fill="#222" stroke="none" stroke-width="1" />
<line x1="367.5" y1="214.1" x2="388" y2="214.1" stroke="#555" stroke-width="1.3"/>
<text x="377.75" y="222.8" font-size="6.6" text-anchor="middle" fill="#444" font-weight="normal" >NaCl</text>
<line x1="396" y1="214.1" x2="417.2" y2="214.1" stroke="#555" stroke-width="1.3"/>
<text x="406.6" y="222.8" font-size="6.6" text-anchor="middle" fill="#444" font-weight="normal" >LPS</text>
<circle cx="437.7" cy="133.7" r="2.3" fill="#fff" stroke="#45a9dc" stroke-width="1.1"/>
<text x="443.5" y="136.2" font-size="7" text-anchor="start" fill="#333" font-weight="normal" >WT</text>
<circle cx="437.7" cy="144.4" r="2.3" fill="#fff" stroke="#c92d3c" stroke-width="1.1"/>
<text x="443.5" y="146.9" font-size="7" text-anchor="start" fill="#333" font-weight="normal" font-style="italic" >Sema7A<tspan font-size="4.2" dy="-2.8">-/-</tspan></text>
<text x="7" y="250" font-size="12.3" text-anchor="start" fill="#111" font-weight="bold" stroke="#111" stroke-width="0.35">C</text>
<line x1="52" y1="255.5" x2="206" y2="255.5" stroke="#4a4a4a" stroke-width="1.8"/>
<text x="118.7" y="250" font-size="9" text-anchor="middle" fill="#262626" font-weight="normal" textLength="19" lengthAdjust="spacingAndGlyphs" stroke="#262626" stroke-width="0.15">NaCl</text>
<line x1="257.5" y1="255.5" x2="417" y2="255.5" stroke="#4a4a4a" stroke-width="1.8"/>
<text x="337.5" y="250" font-size="9" text-anchor="middle" fill="#262626" font-weight="normal" textLength="53" lengthAdjust="spacingAndGlyphs" stroke="#262626" stroke-width="0.15">LPS inhalation</text>
<rect x="52" y="273" width="51.75" height="50.75" fill="#fff" stroke="#b8b8b8" stroke-width="0.8" />
<clipPath id="c52_273"><rect x="52" y="273" width="51.75" height="50.75"/></clipPath><g clip-path="url(#c52_273)">
<circle cx="81.7" cy="289" r="1.9" fill="#3b78c2" stroke="#23306e" stroke-width="0.6"/>
<path d="M85.50,290.50 C85.67,289.77 86.12,289.63 86.50,289.80 C86.88,289.97 87.50,290.83 87.80,291.50 C88.10,292.17 88.47,293.22 88.30,293.80 C88.13,294.38 87.27,294.93 86.80,295.00 C86.33,295.07 85.72,294.95 85.50,294.20 C85.28,293.45 85.33,291.23 85.50,290.50 Z" fill="#2d4a9c" stroke="none" stroke-width="1" />
<ellipse cx="86.8" cy="293.2" rx="0.8" ry="0.9" fill="#7db3e0" transform="rotate(0 86.8 293.2)"/>
<path d="M85.50,299.50 C85.78,299.13 87.05,299.22 87.50,299.80 C87.95,300.38 87.53,302.30 88.20,303.00 C88.87,303.70 90.57,303.47 91.50,304.00 C92.43,304.53 93.63,305.57 93.80,306.20 C93.97,306.83 93.47,307.57 92.50,307.80 C91.53,308.03 89.17,307.53 88.00,307.60 C86.83,307.67 86.07,308.33 85.50,308.20 C84.93,308.07 84.47,307.33 84.60,306.80 C84.73,306.27 86.10,305.80 86.30,305.00 C86.50,304.20 85.93,302.92 85.80,302.00 C85.67,301.08 85.22,299.87 85.50,299.50 Z" fill="#2b3e95" stroke="none" stroke-width="1" />
<ellipse cx="87.3" cy="303.6" rx="1.0" ry="1.5" fill="#5c8bd0" transform="rotate(0 87.3 303.6)"/>
<path d="M86.00,314.30 C86.38,314.17 87.62,314.55 88.00,315.00 C88.38,315.45 88.60,316.63 88.30,317.00 C88.00,317.37 86.63,317.40 86.20,317.20 C85.77,317.00 85.73,316.28 85.70,315.80 C85.67,315.32 85.62,314.43 86.00,314.30 Z" fill="#26237f" stroke="none" stroke-width="1" />
<path d="M80.50,324.20 C78.87,323.58 81.58,321.45 82.50,320.50 C83.42,319.55 84.83,318.67 86.00,318.50 C87.17,318.33 88.45,318.55 89.50,319.50 C90.55,320.45 93.80,323.42 92.30,324.20 C90.80,324.98 82.13,324.82 80.50,324.20 Z" fill="#3a63b3" stroke="none" stroke-width="1" />
<path d="M82.50,324.20 C81.25,323.83 83.17,322.48 84.00,322.00 C84.83,321.52 86.42,321.22 87.50,321.30 C88.58,321.38 89.83,322.02 90.50,322.50 C91.17,322.98 92.83,323.92 91.50,324.20 C90.17,324.48 83.75,324.57 82.50,324.20 Z" fill="#64c3b8" stroke="none" stroke-width="1" />
<path d="M82.50,324.20 C81.58,323.97 84.33,323.03 85.50,322.80 C86.67,322.57 88.58,322.57 89.50,322.80 C90.42,323.03 92.17,323.97 91.00,324.20 C89.83,324.43 83.42,324.43 82.50,324.20 Z" fill="#76c24e" stroke="none" stroke-width="1" />
</g>
<line x1="81.5" y1="273" x2="81.5" y2="323.75" stroke="#4a4a4a" stroke-width="1.0"/>
<line x1="52" y1="307.5" x2="103.75" y2="307.5" stroke="#4a4a4a" stroke-width="1.0"/>
<line x1="52" y1="273" x2="52" y2="323.75" stroke="#a0a0a0" stroke-width="0.9"/>
<line x1="52" y1="323.75" x2="103.75" y2="323.75" stroke="#a0a0a0" stroke-width="0.9"/>
<line x1="50.5" y1="322.75" x2="52" y2="322.75" stroke="#666" stroke-width="0.8"/>
<text x="47.5" y="325.05" font-size="6.6" text-anchor="end" fill="#444">10<tspan dy="-2.5" font-size="4.4">0</tspan></text>
<line x1="50.5" y1="308.55" x2="52" y2="308.55" stroke="#666" stroke-width="0.8"/>
<text x="47.5" y="310.85" font-size="6.6" text-anchor="end" fill="#444">10<tspan dy="-2.5" font-size="4.4">1</tspan></text>
<line x1="50.5" y1="294.15" x2="52" y2="294.15" stroke="#666" stroke-width="0.8"/>
<text x="47.5" y="296.45" font-size="6.6" text-anchor="end" fill="#444">10<tspan dy="-2.5" font-size="4.4">2</tspan></text>
<line x1="50.5" y1="279.55" x2="52" y2="279.55" stroke="#666" stroke-width="0.8"/>
<text x="47.5" y="281.85" font-size="6.6" text-anchor="end" fill="#444">10<tspan dy="-2.5" font-size="4.4">3</tspan></text>
<line x1="53.5" y1="323.75" x2="53.5" y2="325.25" stroke="#666" stroke-width="0.8"/>
<text x="53.4" y="334.05" font-size="6.6" text-anchor="middle" fill="#444">10<tspan dy="-2.5" font-size="4.4">0</tspan></text>
<line x1="67.5" y1="323.75" x2="67.5" y2="325.25" stroke="#666" stroke-width="0.8"/>
<text x="67.4" y="334.05" font-size="6.6" text-anchor="middle" fill="#444">10<tspan dy="-2.5" font-size="4.4">1</tspan></text>
<line x1="82" y1="323.75" x2="82" y2="325.25" stroke="#666" stroke-width="0.8"/>
<text x="81.9" y="334.05" font-size="6.6" text-anchor="middle" fill="#444">10<tspan dy="-2.5" font-size="4.4">2</tspan></text>
<line x1="96.5" y1="323.75" x2="96.5" y2="325.25" stroke="#666" stroke-width="0.8"/>
<text x="96.4" y="334.05" font-size="6.6" text-anchor="middle" fill="#444">10<tspan dy="-2.5" font-size="4.4">3</tspan></text>
<text x="29.3" y="298.875" font-size="8.9" text-anchor="middle" fill="#333" font-weight="normal" transform="rotate(-90 29.3 298.875)" textLength="35.5" lengthAdjust="spacingAndGlyphs" dominant-baseline="central" stroke="#333" stroke-width="0.25">CD42b - FITC</text>
<text x="76.875" y="347.65" font-size="10.1" text-anchor="middle" fill="#333" font-weight="normal" textLength="40.5" lengthAdjust="spacingAndGlyphs" stroke="#333" stroke-width="0.25">Ly6G – PE/Cy7</text>
<text x="77.575" y="267.9" font-size="6.8" text-anchor="middle" fill="#333" font-weight="normal" >WT</text>
<rect x="153.75" y="272.5" width="52.5" height="51.25" fill="#fff" stroke="#b8b8b8" stroke-width="0.8" />
<clipPath id="c153_272"><rect x="153.75" y="272.5" width="52.5" height="51.25"/></clipPath><g clip-path="url(#c153_272)">
<ellipse cx="189.7" cy="290.2" rx="1.3" ry="1.2" fill="#26237f" transform="rotate(0 189.7 290.2)"/>
<line x1="191.6" y1="292.8" x2="195.6" y2="297.8" stroke="#2e2c8c" stroke-width="2.6" stroke-linecap="round"/>
<path d="M191.00,301.20 C191.50,300.90 193.27,300.82 193.80,301.20 C194.33,301.58 194.30,302.73 194.20,303.50 C194.10,304.27 192.97,304.92 193.20,305.80 C193.43,306.68 195.25,307.43 195.60,308.80 C195.95,310.17 195.20,312.13 195.30,314.00 C195.40,315.87 195.55,318.30 196.20,320.00 C196.85,321.70 201.57,323.50 199.20,324.20 C196.83,324.90 184.53,324.82 182.00,324.20 C179.47,323.58 182.87,321.70 184.00,320.50 C185.13,319.30 187.83,318.17 188.80,317.00 C189.77,315.83 189.80,314.75 189.80,313.50 C189.80,312.25 189.27,310.58 188.80,309.50 C188.33,308.42 186.97,307.92 187.00,307.00 C187.03,306.08 188.37,304.67 189.00,304.00 C189.63,303.33 190.47,303.47 190.80,303.00 C191.13,302.53 190.50,301.50 191.00,301.20 Z" fill="#2a2a88" stroke="none" stroke-width="1" />
<path d="M191.50,306.00 C192.03,305.92 193.58,307.17 194.00,308.50 C194.42,309.83 193.87,312.08 194.00,314.00 C194.13,315.92 194.55,318.30 194.80,320.00 C195.05,321.70 196.97,323.50 195.50,324.20 C194.03,324.90 186.92,324.98 186.00,324.20 C185.08,323.42 189.08,321.20 190.00,319.50 C190.92,317.80 191.37,315.75 191.50,314.00 C191.63,312.25 190.80,310.33 190.80,309.00 C190.80,307.67 190.97,306.08 191.50,306.00 Z" fill="#3e6cbd" stroke="none" stroke-width="1" />
<path d="M186.50,324.20 C185.58,323.67 188.42,321.62 189.50,321.00 C190.58,320.38 192.08,319.97 193.00,320.50 C193.92,321.03 196.08,323.58 195.00,324.20 C193.92,324.82 187.42,324.73 186.50,324.20 Z" fill="#5ba6d6" stroke="none" stroke-width="1" />
<path d="M187.50,324.20 C186.75,323.97 189.00,323.03 190.00,322.80 C191.00,322.57 192.75,322.57 193.50,322.80 C194.25,323.03 195.50,323.97 194.50,324.20 C193.50,324.43 188.25,324.43 187.50,324.20 Z" fill="#6dc3a0" stroke="none" stroke-width="1" />
</g>
<line x1="184.5" y1="272.5" x2="184.5" y2="323.75" stroke="#4a4a4a" stroke-width="1.0"/>
<line x1="153.75" y1="306.5" x2="206.25" y2="306.5" stroke="#4a4a4a" stroke-width="1.0"/>
<line x1="153.75" y1="272.5" x2="153.75" y2="323.75" stroke="#a0a0a0" stroke-width="0.9"/>
<line x1="153.75" y1="323.75" x2="206.25" y2="323.75" stroke="#a0a0a0" stroke-width="0.9"/>
<line x1="152.25" y1="322.75" x2="153.75" y2="322.75" stroke="#666" stroke-width="0.8"/>
<text x="149.25" y="325.05" font-size="6.6" text-anchor="end" fill="#444">10<tspan dy="-2.5" font-size="4.4">0</tspan></text>
<line x1="152.25" y1="308.55" x2="153.75" y2="308.55" stroke="#666" stroke-width="0.8"/>
<text x="149.25" y="310.85" font-size="6.6" text-anchor="end" fill="#444">10<tspan dy="-2.5" font-size="4.4">1</tspan></text>
<line x1="152.25" y1="294.15" x2="153.75" y2="294.15" stroke="#666" stroke-width="0.8"/>
<text x="149.25" y="296.45" font-size="6.6" text-anchor="end" fill="#444">10<tspan dy="-2.5" font-size="4.4">2</tspan></text>
<line x1="152.25" y1="279.55" x2="153.75" y2="279.55" stroke="#666" stroke-width="0.8"/>
<text x="149.25" y="281.85" font-size="6.6" text-anchor="end" fill="#444">10<tspan dy="-2.5" font-size="4.4">3</tspan></text>
<line x1="155.25" y1="323.75" x2="155.25" y2="325.25" stroke="#666" stroke-width="0.8"/>
<text x="155.15" y="334.05" font-size="6.6" text-anchor="middle" fill="#444">10<tspan dy="-2.5" font-size="4.4">0</tspan></text>
<line x1="169.25" y1="323.75" x2="169.25" y2="325.25" stroke="#666" stroke-width="0.8"/>
<text x="169.15" y="334.05" font-size="6.6" text-anchor="middle" fill="#444">10<tspan dy="-2.5" font-size="4.4">1</tspan></text>
<line x1="183.75" y1="323.75" x2="183.75" y2="325.25" stroke="#666" stroke-width="0.8"/>
<text x="183.65" y="334.05" font-size="6.6" text-anchor="middle" fill="#444">10<tspan dy="-2.5" font-size="4.4">2</tspan></text>
<line x1="198.25" y1="323.75" x2="198.25" y2="325.25" stroke="#666" stroke-width="0.8"/>
<text x="198.15" y="334.05" font-size="6.6" text-anchor="middle" fill="#444">10<tspan dy="-2.5" font-size="4.4">3</tspan></text>
<text x="131.05" y="298.625" font-size="8.9" text-anchor="middle" fill="#333" font-weight="normal" transform="rotate(-90 131.05 298.625)" textLength="35.5" lengthAdjust="spacingAndGlyphs" dominant-baseline="central" stroke="#333" stroke-width="0.25">CD42b - FITC</text>
<text x="179.0" y="347.65" font-size="10.1" text-anchor="middle" fill="#333" font-weight="normal" textLength="40.5" lengthAdjust="spacingAndGlyphs" stroke="#333" stroke-width="0.25">Ly6G – PE/Cy7</text>
<text x="179.7" y="267.4" font-size="6.8" text-anchor="middle" fill="#333" font-weight="normal" textLength="29.5" lengthAdjust="spacingAndGlyphs" >Sema7A<tspan font-size="5" dy="-2.8">-/-</tspan></text>
<rect x="257.5" y="272.5" width="52.0" height="51.25" fill="#fff" stroke="#b8b8b8" stroke-width="0.8" />
<clipPath id="c257_272"><rect x="257.5" y="272.5" width="52.0" height="51.25"/></clipPath><g clip-path="url(#c257_272)">
<path d="M296.50,274.50 C297.70,274.47 299.33,274.48 300.50,275.00 C301.67,275.52 302.78,276.20 303.50,277.60 C304.22,279.00 304.75,281.83 304.80,283.40 C304.85,284.97 304.05,285.82 303.80,287.00 C303.55,288.18 303.63,289.25 303.30,290.50 C302.97,291.75 302.22,293.20 301.80,294.50 C301.38,295.80 301.23,297.05 300.80,298.30 C300.37,299.55 299.53,300.68 299.20,302.00 C298.87,303.32 298.97,304.87 298.80,306.20 C298.63,307.53 298.37,308.68 298.20,310.00 C298.03,311.32 297.77,312.77 297.80,314.10 C297.83,315.43 298.32,316.83 298.40,318.00 C298.48,319.17 297.93,320.05 298.30,321.10 C298.67,322.15 302.72,323.77 300.60,324.30 C298.48,324.83 287.73,324.85 285.60,324.30 C283.47,323.75 287.33,322.18 287.80,321.00 C288.27,319.82 288.13,318.53 288.40,317.20 C288.67,315.87 289.13,314.83 289.40,313.00 C289.67,311.17 289.97,307.95 290.00,306.20 C290.03,304.45 289.57,303.55 289.60,302.50 C289.63,301.45 290.25,301.28 290.20,299.90 C290.15,298.52 289.83,295.32 289.30,294.20 C288.77,293.08 287.08,293.63 287.00,293.20 C286.92,292.77 288.50,292.38 288.80,291.60 C289.10,290.82 288.68,289.87 288.80,288.50 C288.92,287.13 289.20,285.17 289.50,283.40 C289.80,281.63 289.97,279.27 290.60,277.90 C291.23,276.53 292.32,275.77 293.30,275.20 C294.28,274.63 295.30,274.53 296.50,274.50 Z" fill="#26237f" stroke="none" stroke-width="1" />
<path d="M296.50,276.80 C297.82,276.63 299.25,276.77 300.20,277.80 C301.15,278.83 302.00,280.88 302.20,283.00 C302.40,285.12 301.97,287.95 301.40,290.50 C300.83,293.05 299.53,295.68 298.80,298.30 C298.07,300.92 297.43,303.57 297.00,306.20 C296.57,308.83 296.27,311.62 296.20,314.10 C296.13,316.58 296.27,319.40 296.60,321.10 C296.93,322.80 299.57,323.77 298.20,324.30 C296.83,324.83 289.73,325.48 288.40,324.30 C287.07,323.12 289.70,320.22 290.20,317.20 C290.70,314.18 291.23,309.08 291.40,306.20 C291.57,303.32 291.30,302.40 291.20,299.90 C291.10,297.40 290.83,293.95 290.80,291.20 C290.77,288.45 290.75,285.47 291.00,283.40 C291.25,281.33 291.38,279.90 292.30,278.80 C293.22,277.70 295.18,276.97 296.50,276.80 Z" fill="#3e6cbd" stroke="none" stroke-width="1" />
<path d="M296.08,278.62 C297.03,278.47 298.06,278.59 298.74,279.52 C299.43,280.45 300.04,282.29 300.18,284.20 C300.33,286.11 300.02,288.65 299.61,290.95 C299.20,293.25 298.26,295.62 297.74,297.97 C297.21,300.33 296.75,302.71 296.44,305.08 C296.13,307.45 295.91,309.95 295.86,312.19 C295.82,314.43 295.91,316.96 296.15,318.49 C296.39,320.02 298.29,320.89 297.30,321.37 C296.32,321.85 291.21,322.44 290.25,321.37 C289.29,320.31 291.18,317.70 291.54,314.98 C291.90,312.26 292.29,307.68 292.41,305.08 C292.53,302.48 292.34,301.66 292.26,299.41 C292.19,297.16 292.00,294.05 291.98,291.58 C291.95,289.11 291.94,286.42 292.12,284.56 C292.30,282.70 292.40,281.41 293.06,280.42 C293.72,279.43 295.13,278.77 296.08,278.62 Z" fill="#69b6e6" stroke="none" stroke-width="1" />
<path d="M295.70,279.50 C296.58,279.33 298.15,279.50 298.80,280.50 C299.45,281.50 299.70,283.42 299.60,285.50 C299.50,287.58 298.77,290.58 298.20,293.00 C297.63,295.42 296.73,297.50 296.20,300.00 C295.67,302.50 295.30,305.33 295.00,308.00 C294.70,310.67 294.50,313.28 294.40,316.00 C294.30,318.72 294.80,322.92 294.40,324.30 C294.00,325.68 292.32,325.68 292.00,324.30 C291.68,322.92 292.33,319.05 292.50,316.00 C292.67,312.95 292.97,309.17 293.00,306.00 C293.03,302.83 292.77,300.17 292.70,297.00 C292.63,293.83 292.47,289.58 292.60,287.00 C292.73,284.42 292.98,282.75 293.50,281.50 C294.02,280.25 294.82,279.67 295.70,279.50 Z" fill="#72d4cc" stroke="none" stroke-width="1" />
<ellipse cx="296.2" cy="286.8" rx="2.1" ry="4.6" fill="#76c24e" transform="rotate(5 296.2 286.8)"/>
<path d="M289.80,324.30 C289.07,323.83 290.85,321.97 291.60,321.50 C292.35,321.03 293.57,321.03 294.30,321.50 C295.03,321.97 296.75,323.83 296.00,324.30 C295.25,324.77 290.53,324.77 289.80,324.30 Z" fill="#76c24e" stroke="none" stroke-width="1" />
</g>
<line x1="287.5" y1="272.5" x2="287.5" y2="323.75" stroke="#4a4a4a" stroke-width="1.0"/>
<line x1="257.5" y1="307.5" x2="309.5" y2="307.5" stroke="#4a4a4a" stroke-width="1.0"/>
<line x1="257.5" y1="272.5" x2="257.5" y2="323.75" stroke="#a0a0a0" stroke-width="0.9"/>
<line x1="257.5" y1="323.75" x2="309.5" y2="323.75" stroke="#a0a0a0" stroke-width="0.9"/>
<line x1="256.0" y1="322.75" x2="257.5" y2="322.75" stroke="#666" stroke-width="0.8"/>
<text x="253.0" y="325.05" font-size="6.6" text-anchor="end" fill="#444">10<tspan dy="-2.5" font-size="4.4">0</tspan></text>
<line x1="256.0" y1="308.55" x2="257.5" y2="308.55" stroke="#666" stroke-width="0.8"/>
<text x="253.0" y="310.85" font-size="6.6" text-anchor="end" fill="#444">10<tspan dy="-2.5" font-size="4.4">1</tspan></text>
<line x1="256.0" y1="294.15" x2="257.5" y2="294.15" stroke="#666" stroke-width="0.8"/>
<text x="253.0" y="296.45" font-size="6.6" text-anchor="end" fill="#444">10<tspan dy="-2.5" font-size="4.4">2</tspan></text>
<line x1="256.0" y1="279.55" x2="257.5" y2="279.55" stroke="#666" stroke-width="0.8"/>
<text x="253.0" y="281.85" font-size="6.6" text-anchor="end" fill="#444">10<tspan dy="-2.5" font-size="4.4">3</tspan></text>
<line x1="259.0" y1="323.75" x2="259.0" y2="325.25" stroke="#666" stroke-width="0.8"/>
<text x="258.9" y="334.05" font-size="6.6" text-anchor="middle" fill="#444">10<tspan dy="-2.5" font-size="4.4">0</tspan></text>
<line x1="273.0" y1="323.75" x2="273.0" y2="325.25" stroke="#666" stroke-width="0.8"/>
<text x="272.9" y="334.05" font-size="6.6" text-anchor="middle" fill="#444">10<tspan dy="-2.5" font-size="4.4">1</tspan></text>
<line x1="287.5" y1="323.75" x2="287.5" y2="325.25" stroke="#666" stroke-width="0.8"/>
<text x="287.4" y="334.05" font-size="6.6" text-anchor="middle" fill="#444">10<tspan dy="-2.5" font-size="4.4">2</tspan></text>
<line x1="302.0" y1="323.75" x2="302.0" y2="325.25" stroke="#666" stroke-width="0.8"/>
<text x="301.9" y="334.05" font-size="6.6" text-anchor="middle" fill="#444">10<tspan dy="-2.5" font-size="4.4">3</tspan></text>
<text x="234.8" y="298.625" font-size="8.9" text-anchor="middle" fill="#333" font-weight="normal" transform="rotate(-90 234.8 298.625)" textLength="35.5" lengthAdjust="spacingAndGlyphs" dominant-baseline="central" stroke="#333" stroke-width="0.25">CD42b - FITC</text>
<text x="282.5" y="347.65" font-size="10.1" text-anchor="middle" fill="#333" font-weight="normal" textLength="40.5" lengthAdjust="spacingAndGlyphs" stroke="#333" stroke-width="0.25">Ly6G – PE/Cy7</text>
<text x="283.2" y="267.4" font-size="6.8" text-anchor="middle" fill="#333" font-weight="normal" >WT</text>
<rect x="363.75" y="272.5" width="53.25" height="51.25" fill="#fff" stroke="#b8b8b8" stroke-width="0.8" />
<clipPath id="c363_272"><rect x="363.75" y="272.5" width="53.25" height="51.25"/></clipPath><g clip-path="url(#c363_272)">
<path d="M392.60,272.00 C396.30,271.42 411.83,271.33 415.60,272.00 C419.37,272.67 415.53,274.67 415.20,276.00 C414.87,277.33 414.00,278.62 413.60,280.00 C413.20,281.38 413.23,282.97 412.80,284.30 C412.37,285.63 411.43,286.65 411.00,288.00 C410.57,289.35 410.60,291.07 410.20,292.40 C409.80,293.73 409.00,294.65 408.60,296.00 C408.20,297.35 408.13,299.17 407.80,300.50 C407.47,301.83 406.87,302.63 406.60,304.00 C406.33,305.37 406.10,307.37 406.20,308.70 C406.30,310.03 407.15,310.65 407.20,312.00 C407.25,313.35 406.50,315.38 406.50,316.80 C406.50,318.22 406.87,319.25 407.20,320.50 C407.53,321.75 410.77,323.67 408.50,324.30 C406.23,324.93 395.60,324.93 393.60,324.30 C391.60,323.67 395.73,321.75 396.50,320.50 C397.27,319.25 397.65,318.22 398.20,316.80 C398.75,315.38 399.60,313.63 399.80,312.00 C400.00,310.37 399.33,308.67 399.40,307.00 C399.47,305.33 400.35,303.50 400.20,302.00 C400.05,300.50 398.70,299.25 398.50,298.00 C398.30,296.75 399.33,295.58 399.00,294.50 C398.67,293.42 397.00,292.50 396.50,291.50 C396.00,290.50 396.38,289.38 396.00,288.50 C395.62,287.62 394.37,287.12 394.20,286.20 C394.03,285.28 395.12,284.20 395.00,283.00 C394.88,281.80 393.77,280.25 393.50,279.00 C393.23,277.75 393.55,276.67 393.40,275.50 C393.25,274.33 388.90,272.58 392.60,272.00 Z" fill="#26237f" stroke="none" stroke-width="1" />
<path d="M395.20,272.00 C398.13,271.00 410.72,271.17 413.60,272.00 C416.48,272.83 412.88,275.17 412.50,277.00 C412.12,278.83 411.83,281.00 411.30,283.00 C410.77,285.00 409.85,287.00 409.30,289.00 C408.75,291.00 408.52,293.00 408.00,295.00 C407.48,297.00 406.70,298.83 406.20,301.00 C405.70,303.17 405.15,305.42 405.00,308.00 C404.85,310.58 405.13,313.78 405.30,316.50 C405.47,319.22 407.47,323.00 406.00,324.30 C404.53,325.60 397.62,325.52 396.50,324.30 C395.38,323.08 398.55,319.63 399.30,317.00 C400.05,314.37 400.72,311.17 401.00,308.50 C401.28,305.83 401.17,303.17 401.00,301.00 C400.83,298.83 400.47,297.25 400.00,295.50 C399.53,293.75 398.70,292.42 398.20,290.50 C397.70,288.58 397.37,286.08 397.00,284.00 C396.63,281.92 396.30,280.00 396.00,278.00 C395.70,276.00 392.27,273.00 395.20,272.00 Z" fill="#3e6cbd" stroke="none" stroke-width="1" />
<path d="M398.50,272.00 C400.67,270.67 409.98,270.83 412.00,272.00 C414.02,273.17 411.23,276.17 410.60,279.00 C409.97,281.83 408.93,286.00 408.20,289.00 C407.47,292.00 406.87,294.33 406.20,297.00 C405.53,299.67 404.63,302.17 404.20,305.00 C403.77,307.83 403.60,310.78 403.60,314.00 C403.60,317.22 405.00,322.58 404.20,324.30 C403.40,326.02 399.23,325.68 398.80,324.30 C398.37,322.92 401.00,319.05 401.60,316.00 C402.20,312.95 402.37,309.17 402.40,306.00 C402.43,302.83 402.17,299.83 401.80,297.00 C401.43,294.17 400.67,291.83 400.20,289.00 C399.73,286.17 399.28,282.83 399.00,280.00 C398.72,277.17 396.33,273.33 398.50,272.00 Z" fill="#69b6e6" stroke="none" stroke-width="1" />
<path d="M400.50,272.00 C402.12,270.67 409.08,270.83 410.50,272.00 C411.92,273.17 409.65,276.33 409.00,279.00 C408.35,281.67 407.33,284.83 406.60,288.00 C405.87,291.17 405.17,294.67 404.60,298.00 C404.03,301.33 403.50,303.62 403.20,308.00 C402.90,312.38 403.17,321.58 402.80,324.30 C402.43,327.02 401.20,326.68 401.00,324.30 C400.80,321.92 401.47,314.22 401.60,310.00 C401.73,305.78 401.83,302.33 401.80,299.00 C401.77,295.67 401.57,293.17 401.40,290.00 C401.23,286.83 400.95,283.00 400.80,280.00 C400.65,277.00 398.88,273.33 400.50,272.00 Z" fill="#72d4cc" stroke="none" stroke-width="1" />
<path d="M401.20,272.00 C402.53,270.83 408.38,271.00 409.60,272.00 C410.82,273.00 409.07,275.83 408.50,278.00 C407.93,280.17 406.88,282.50 406.20,285.00 C405.52,287.50 405.00,292.83 404.40,293.00 C403.80,293.17 403.07,288.33 402.60,286.00 C402.13,283.67 401.83,281.33 401.60,279.00 C401.37,276.67 399.87,273.17 401.20,272.00 Z" fill="#76c24e" stroke="none" stroke-width="1" />
<path d="M396.50,272.00 C398.83,271.70 410.67,271.70 413.00,272.00 C415.33,272.30 412.00,273.55 410.50,273.80 C409.00,274.05 405.92,273.50 404.00,273.50 C402.08,273.50 400.25,274.05 399.00,273.80 C397.75,273.55 394.17,272.30 396.50,272.00 Z" fill="#cfe040" stroke="none" stroke-width="1" />
<ellipse cx="400.5" cy="323.4" rx="5.0" ry="1.3" fill="#76c24e" transform="rotate(0 400.5 323.4)"/>
</g>
<line x1="392.5" y1="272.5" x2="392.5" y2="323.75" stroke="#4a4a4a" stroke-width="1.0"/>
<line x1="363.75" y1="307.5" x2="417" y2="307.5" stroke="#4a4a4a" stroke-width="1.0"/>
<line x1="363.75" y1="272.5" x2="363.75" y2="323.75" stroke="#a0a0a0" stroke-width="0.9"/>
<line x1="363.75" y1="323.75" x2="417" y2="323.75" stroke="#a0a0a0" stroke-width="0.9"/>
<line x1="362.25" y1="322.75" x2="363.75" y2="322.75" stroke="#666" stroke-width="0.8"/>
<text x="359.25" y="325.05" font-size="6.6" text-anchor="end" fill="#444">10<tspan dy="-2.5" font-size="4.4">0</tspan></text>
<line x1="362.25" y1="308.55" x2="363.75" y2="308.55" stroke="#666" stroke-width="0.8"/>
<text x="359.25" y="310.85" font-size="6.6" text-anchor="end" fill="#444">10<tspan dy="-2.5" font-size="4.4">1</tspan></text>
<line x1="362.25" y1="294.15" x2="363.75" y2="294.15" stroke="#666" stroke-width="0.8"/>
<text x="359.25" y="296.45" font-size="6.6" text-anchor="end" fill="#444">10<tspan dy="-2.5" font-size="4.4">2</tspan></text>
<line x1="362.25" y1="279.55" x2="363.75" y2="279.55" stroke="#666" stroke-width="0.8"/>
<text x="359.25" y="281.85" font-size="6.6" text-anchor="end" fill="#444">10<tspan dy="-2.5" font-size="4.4">3</tspan></text>
<line x1="365.25" y1="323.75" x2="365.25" y2="325.25" stroke="#666" stroke-width="0.8"/>
<text x="365.15" y="334.05" font-size="6.6" text-anchor="middle" fill="#444">10<tspan dy="-2.5" font-size="4.4">0</tspan></text>
<line x1="379.25" y1="323.75" x2="379.25" y2="325.25" stroke="#666" stroke-width="0.8"/>
<text x="379.15" y="334.05" font-size="6.6" text-anchor="middle" fill="#444">10<tspan dy="-2.5" font-size="4.4">1</tspan></text>
<line x1="393.75" y1="323.75" x2="393.75" y2="325.25" stroke="#666" stroke-width="0.8"/>
<text x="393.65" y="334.05" font-size="6.6" text-anchor="middle" fill="#444">10<tspan dy="-2.5" font-size="4.4">2</tspan></text>
<line x1="408.25" y1="323.75" x2="408.25" y2="325.25" stroke="#666" stroke-width="0.8"/>
<text x="408.15" y="334.05" font-size="6.6" text-anchor="middle" fill="#444">10<tspan dy="-2.5" font-size="4.4">3</tspan></text>
<text x="341.05" y="298.625" font-size="8.9" text-anchor="middle" fill="#333" font-weight="normal" transform="rotate(-90 341.05 298.625)" textLength="35.5" lengthAdjust="spacingAndGlyphs" dominant-baseline="central" stroke="#333" stroke-width="0.25">CD42b - FITC</text>
<text x="389.375" y="347.65" font-size="10.1" text-anchor="middle" fill="#333" font-weight="normal" textLength="40.5" lengthAdjust="spacingAndGlyphs" stroke="#333" stroke-width="0.25">Ly6G – PE/Cy7</text>
<text x="390.075" y="267.4" font-size="6.8" text-anchor="middle" fill="#333" font-weight="normal" textLength="29.5" lengthAdjust="spacingAndGlyphs" >Sema7A<tspan font-size="5" dy="-2.8">-/-</tspan></text>
<text x="7" y="374" font-size="12.3" text-anchor="start" fill="#111" font-weight="bold" stroke="#111" stroke-width="0.35">D</text>
<rect x="53.7" y="445.844" width="8.699999999999996" height="2.656000000000006" fill="#7189bf" stroke="none" stroke-width="1" />
<rect x="67.7" y="435.884" width="8.0" height="12.615999999999985" fill="#f9ca8c" stroke="none" stroke-width="1" />
<rect x="84.4" y="417.956" width="8.0" height="30.543999999999983" fill="#7189bf" stroke="none" stroke-width="1" />
<rect x="97.1" y="398.036" width="8.0" height="50.464" fill="#f9ca8c" stroke="none" stroke-width="1" />
<line x1="71.7" y1="433.892" x2="71.7" y2="435.884" stroke="#f3a63c" stroke-width="0.9"/>
<line x1="70.0" y1="433.892" x2="73.4" y2="433.892" stroke="#f3a63c" stroke-width="1.0"/>
<line x1="88.4" y1="402.02000000000004" x2="88.4" y2="433.892" stroke="#24447f" stroke-width="0.9"/>
<line x1="86.7" y1="402.02000000000004" x2="90.10000000000001" y2="402.02000000000004" stroke="#24447f" stroke-width="1.0"/>
<line x1="86.7" y1="433.892" x2="90.10000000000001" y2="433.892" stroke="#24447f" stroke-width="1.0"/>
<line x1="101.1" y1="386.084" x2="101.1" y2="407.332" stroke="#f0a030" stroke-width="0.9"/>
<line x1="99.39999999999999" y1="386.084" x2="102.8" y2="386.084" stroke="#f0a030" stroke-width="1.0"/>
<line x1="99.39999999999999" y1="407.332" x2="102.8" y2="407.332" stroke="#f0a030" stroke-width="1.0"/>
<circle cx="58.05" cy="439.204" r="1.75" fill="#fff" stroke="#2f569f" stroke-width="0.95"/>
<circle cx="55.55" cy="445.18" r="1.75" fill="#fff" stroke="#2f569f" stroke-width="0.95"/>
<circle cx="60.05" cy="445.18" r="1.75" fill="#fff" stroke="#2f569f" stroke-width="0.95"/>
<circle cx="58.05" cy="447.172" r="1.75" fill="#fff" stroke="#2f569f" stroke-width="0.95"/>
<circle cx="69.7" cy="436.548" r="1.75" fill="#fff" stroke="#f3a63c" stroke-width="0.95"/>
<circle cx="73.2" cy="433.892" r="1.75" fill="#fff" stroke="#f3a63c" stroke-width="0.95"/>
<circle cx="74.7" cy="437.212" r="1.75" fill="#fff" stroke="#f3a63c" stroke-width="0.95"/>
<circle cx="71.7" cy="441.86" r="1.75" fill="#fff" stroke="#f3a63c" stroke-width="0.95"/>
<circle cx="71.7" cy="445.844" r="1.75" fill="#fff" stroke="#f3a63c" stroke-width="0.95"/>
<circle cx="85.9" cy="405.34000000000003" r="1.75" fill="#fff" stroke="#2f569f" stroke-width="0.95"/>
<circle cx="90.9" cy="402.02000000000004" r="1.75" fill="#fff" stroke="#2f569f" stroke-width="0.95"/>
<circle cx="88.4" cy="411.31600000000003" r="1.75" fill="#fff" stroke="#2f569f" stroke-width="0.95"/>
<circle cx="88.4" cy="421.94" r="1.75" fill="#fff" stroke="#2f569f" stroke-width="0.95"/>
<circle cx="88.4" cy="429.908" r="1.75" fill="#fff" stroke="#2f569f" stroke-width="0.95"/>
<circle cx="88.4" cy="433.892" r="1.75" fill="#fff" stroke="#2f569f" stroke-width="0.95"/>
<circle cx="98.6" cy="386.74800000000005" r="1.75" fill="#fff" stroke="#f3a63c" stroke-width="0.95"/>
<circle cx="103.6" cy="386.74800000000005" r="1.75" fill="#fff" stroke="#f3a63c" stroke-width="0.95"/>
<circle cx="99.1" cy="402.684" r="1.75" fill="#fff" stroke="#f3a63c" stroke-width="0.95"/>
<circle cx="103.6" cy="402.684" r="1.75" fill="#fff" stroke="#f3a63c" stroke-width="0.95"/>
<circle cx="101.1" cy="407.332" r="1.75" fill="#fff" stroke="#f3a63c" stroke-width="0.95"/>
<line x1="51.7" y1="379.7" x2="51.7" y2="449.1" stroke="#333" stroke-width="1.3"/>
<line x1="50.2" y1="448.5" x2="107.8" y2="448.5" stroke="#333" stroke-width="1.6"/>
<line x1="49.300000000000004" y1="448.5" x2="51.7" y2="448.5" stroke="#333" stroke-width="0.9"/>
<text x="45.2" y="450.8" font-size="6.5" text-anchor="end" fill="#444" font-weight="normal" >0</text>
<line x1="49.300000000000004" y1="435.22" x2="51.7" y2="435.22" stroke="#333" stroke-width="0.9"/>
<text x="45.2" y="437.52000000000004" font-size="6.5" text-anchor="end" fill="#444" font-weight="normal" >20</text>
<line x1="49.300000000000004" y1="421.94" x2="51.7" y2="421.94" stroke="#333" stroke-width="0.9"/>
<text x="45.2" y="424.24" font-size="6.5" text-anchor="end" fill="#444" font-weight="normal" >40</text>
<line x1="49.300000000000004" y1="408.66" x2="51.7" y2="408.66" stroke="#333" stroke-width="0.9"/>
<text x="45.2" y="410.96000000000004" font-size="6.5" text-anchor="end" fill="#444" font-weight="normal" >60</text>
<line x1="49.300000000000004" y1="395.38" x2="51.7" y2="395.38" stroke="#333" stroke-width="0.9"/>
<text x="45.2" y="397.68" font-size="6.5" text-anchor="end" fill="#444" font-weight="normal" >80</text>
<line x1="49.300000000000004" y1="382.1" x2="51.7" y2="382.1" stroke="#333" stroke-width="0.9"/>
<text x="45.2" y="384.40000000000003" font-size="6.5" text-anchor="end" fill="#444" font-weight="normal" >100</text>
<text x="26.5" y="414.1" font-size="7.9" text-anchor="middle" fill="#333" font-weight="normal" transform="rotate(-90 26.5 414.1)" textLength="71" lengthAdjust="spacingAndGlyphs" dominant-baseline="central" stroke="#333" stroke-width="0.28">PNCs - frequency of parent</text>
<line x1="73.7" y1="371.5" x2="101.1" y2="371.5" stroke="#484848" stroke-width="1.1"/>
<line x1="73.7" y1="368.4" x2="73.7" y2="374.6" stroke="#484848" stroke-width="1.1"/>
<line x1="101.1" y1="368.4" x2="101.1" y2="374.6" stroke="#484848" stroke-width="1.1"/>
<text x="87.4" y="370.6" font-size="6.2" text-anchor="middle" fill="#333" font-weight="bold" >***</text>
<line x1="88" y1="379.5" x2="101.1" y2="379.5" stroke="#484848" stroke-width="1.1"/>
<line x1="88" y1="376.4" x2="88" y2="382.6" stroke="#484848" stroke-width="1.1"/>
<line x1="101.1" y1="376.4" x2="101.1" y2="382.6" stroke="#484848" stroke-width="1.1"/>
<text x="94.55" y="378.6" font-size="6.2" text-anchor="middle" fill="#333" font-weight="bold" >*</text>
<line x1="60.8" y1="389.5" x2="87.7" y2="389.5" stroke="#484848" stroke-width="1.1"/>
<line x1="60.8" y1="386.4" x2="60.8" y2="392.6" stroke="#484848" stroke-width="1.1"/>
<line x1="87.7" y1="386.4" x2="87.7" y2="392.6" stroke="#484848" stroke-width="1.1"/>
<text x="74.25" y="388.6" font-size="6.2" text-anchor="middle" fill="#333" font-weight="bold" >**</text>
<line x1="60.8" y1="396.5" x2="73.3" y2="396.5" stroke="#484848" stroke-width="1.1"/>
<line x1="60.8" y1="393.4" x2="60.8" y2="399.6" stroke="#484848" stroke-width="1.1"/>
<line x1="73.3" y1="393.4" x2="73.3" y2="399.6" stroke="#484848" stroke-width="1.1"/>
<text x="67.05" y="395.6" font-size="6.2" text-anchor="middle" fill="#333" font-weight="bold" >*</text>
<line x1="54.3" y1="452.2" x2="75" y2="452.2" stroke="#555" stroke-width="1.3"/>
<text x="64.65" y="460.8" font-size="6.6" text-anchor="middle" fill="#444" font-weight="normal" >NaCl</text>
<line x1="85" y1="452.2" x2="105.7" y2="452.2" stroke="#555" stroke-width="1.3"/>
<text x="95.35" y="460.8" font-size="6.6" text-anchor="middle" fill="#444" font-weight="normal" >LPS</text>
<rect x="157" y="447.67" width="8.199999999999989" height="1.329999999999984" fill="#7189bf" stroke="none" stroke-width="1" />
<rect x="169.6" y="447.67" width="8.200000000000017" height="1.329999999999984" fill="#f9ca8c" stroke="none" stroke-width="1" />
<rect x="187.3" y="441.02" width="7.699999999999989" height="7.980000000000018" fill="#7189bf" stroke="none" stroke-width="1" />
<rect x="200.4" y="421.5133333333333" width="7.199999999999989" height="27.48666666666668" fill="#f9ca8c" stroke="none" stroke-width="1" />
<line x1="191.15" y1="434.37" x2="191.15" y2="446.34" stroke="#24447f" stroke-width="0.9"/>
<line x1="189.45000000000002" y1="434.37" x2="192.85" y2="434.37" stroke="#24447f" stroke-width="1.0"/>
<line x1="189.45000000000002" y1="446.34" x2="192.85" y2="446.34" stroke="#24447f" stroke-width="1.0"/>
<line x1="204.0" y1="405.11" x2="204.0" y2="435.7" stroke="#f0a030" stroke-width="0.9"/>
<line x1="202.3" y1="405.11" x2="205.7" y2="405.11" stroke="#f0a030" stroke-width="1.0"/>
<line x1="202.3" y1="435.7" x2="205.7" y2="435.7" stroke="#f0a030" stroke-width="1.0"/>
<circle cx="159.1" cy="447.67" r="1.75" fill="#fff" stroke="#2f569f" stroke-width="0.95"/>
<circle cx="163.1" cy="447.2266666666667" r="1.75" fill="#fff" stroke="#2f569f" stroke-width="0.95"/>
<circle cx="161.1" cy="448.5566666666667" r="1.75" fill="#fff" stroke="#2f569f" stroke-width="0.95"/>
<circle cx="171.7" cy="447.67" r="1.75" fill="#fff" stroke="#f3a63c" stroke-width="0.95"/>
<circle cx="175.7" cy="447.2266666666667" r="1.75" fill="#fff" stroke="#f3a63c" stroke-width="0.95"/>
<circle cx="173.7" cy="448.5566666666667" r="1.75" fill="#fff" stroke="#f3a63c" stroke-width="0.95"/>
<circle cx="191.15" cy="427.72" r="1.75" fill="#fff" stroke="#2f569f" stroke-width="0.95"/>
<circle cx="191.15" cy="433.9266666666667" r="1.75" fill="#fff" stroke="#2f569f" stroke-width="0.95"/>
<circle cx="189.15" cy="441.90666666666664" r="1.75" fill="#fff" stroke="#2f569f" stroke-width="0.95"/>
<circle cx="193.15" cy="441.90666666666664" r="1.75" fill="#fff" stroke="#2f569f" stroke-width="0.95"/>
<circle cx="188.65" cy="446.34" r="1.75" fill="#fff" stroke="#2f569f" stroke-width="0.95"/>
<circle cx="193.65" cy="446.34" r="1.75" fill="#fff" stroke="#2f569f" stroke-width="0.95"/>
<circle cx="204.0" cy="405.11" r="1.75" fill="#fff" stroke="#f3a63c" stroke-width="0.95"/>
<circle cx="204.0" cy="421.07" r="1.75" fill="#fff" stroke="#f3a63c" stroke-width="0.95"/>
<circle cx="204.0" cy="428.6066666666667" r="1.75" fill="#fff" stroke="#f3a63c" stroke-width="0.95"/>
<circle cx="204.0" cy="435.7" r="1.75" fill="#fff" stroke="#f3a63c" stroke-width="0.95"/>
<line x1="154.5" y1="379.5" x2="154.5" y2="449.6" stroke="#333" stroke-width="1.3"/>
<line x1="153.0" y1="449" x2="210.5" y2="449" stroke="#333" stroke-width="1.6"/>
<line x1="152.1" y1="449.0" x2="154.5" y2="449.0" stroke="#333" stroke-width="0.9"/>
<text x="148.0" y="451.3" font-size="6.5" text-anchor="end" fill="#444" font-weight="normal" >0</text>
<line x1="152.1" y1="426.8333333333333" x2="154.5" y2="426.8333333333333" stroke="#333" stroke-width="0.9"/>
<text x="148.0" y="429.1333333333333" font-size="6.5" text-anchor="end" fill="#444" font-weight="normal" >50</text>
<line x1="152.1" y1="404.6666666666667" x2="154.5" y2="404.6666666666667" stroke="#333" stroke-width="0.9"/>
<text x="148.0" y="406.9666666666667" font-size="6.5" text-anchor="end" fill="#444" font-weight="normal" >100</text>
<line x1="152.1" y1="382.5" x2="154.5" y2="382.5" stroke="#333" stroke-width="0.9"/>
<text x="148.0" y="384.8" font-size="6.5" text-anchor="end" fill="#444" font-weight="normal" >150</text>
<text x="129.0" y="414.25" font-size="7.9" text-anchor="middle" fill="#333" font-weight="normal" transform="rotate(-90 129.0 414.25)" textLength="37.5" lengthAdjust="spacingAndGlyphs" dominant-baseline="central" stroke="#333" stroke-width="0.28">JON/A+/MFI</text>
<line x1="174.3" y1="382.5" x2="204.4" y2="382.5" stroke="#484848" stroke-width="1.1"/>
<line x1="174.3" y1="379.4" x2="174.3" y2="385.6" stroke="#484848" stroke-width="1.1"/>
<line x1="204.4" y1="379.4" x2="204.4" y2="385.6" stroke="#484848" stroke-width="1.1"/>
<text x="189.35000000000002" y="381.6" font-size="6.2" text-anchor="middle" fill="#333" font-weight="bold" >**</text>
<line x1="161.6" y1="390.5" x2="191.1" y2="390.5" stroke="#484848" stroke-width="1.1"/>
<line x1="161.6" y1="387.4" x2="161.6" y2="393.6" stroke="#484848" stroke-width="1.1"/>
<line x1="191.1" y1="387.4" x2="191.1" y2="393.6" stroke="#484848" stroke-width="1.1"/>
<text x="176.35" y="389.6" font-size="6.2" text-anchor="middle" fill="#333" font-weight="bold" >*</text>
<line x1="191.1" y1="399.5" x2="204.4" y2="399.5" stroke="#484848" stroke-width="1.1"/>
<line x1="191.1" y1="396.4" x2="191.1" y2="402.6" stroke="#484848" stroke-width="1.1"/>
<line x1="204.4" y1="396.4" x2="204.4" y2="402.6" stroke="#484848" stroke-width="1.1"/>
<text x="197.75" y="398.6" font-size="6.2" text-anchor="middle" fill="#333" font-weight="bold" >*</text>
<line x1="157.6" y1="452.2" x2="177.8" y2="452.2" stroke="#555" stroke-width="1.3"/>
<text x="167.7" y="460.8" font-size="6.6" text-anchor="middle" fill="#444" font-weight="normal" >NaCl</text>
<line x1="187.3" y1="452.2" x2="208.2" y2="452.2" stroke="#555" stroke-width="1.3"/>
<text x="197.75" y="460.8" font-size="6.6" text-anchor="middle" fill="#444" font-weight="normal" >LPS</text>
<rect x="260" y="438.278125" width="8" height="10.421875" fill="#7189bf" stroke="none" stroke-width="1" />
<rect x="272.7" y="431.19124999999997" width="8.300000000000011" height="17.50875000000002" fill="#f9ca8c" stroke="none" stroke-width="1" />
<rect x="290.2" y="415.35" width="7.800000000000011" height="33.349999999999966" fill="#7189bf" stroke="none" stroke-width="1" />
<rect x="302.8" y="417.85125" width="7.899999999999977" height="30.848749999999995" fill="#f9ca8c" stroke="none" stroke-width="1" />
<line x1="276.85" y1="424.52125" x2="276.85" y2="436.19374999999997" stroke="#f0a030" stroke-width="0.9"/>
<line x1="275.15000000000003" y1="424.52125" x2="278.55" y2="424.52125" stroke="#f0a030" stroke-width="1.0"/>
<line x1="275.15000000000003" y1="436.19374999999997" x2="278.55" y2="436.19374999999997" stroke="#f0a030" stroke-width="1.0"/>
<line x1="294.1" y1="398.675" x2="294.1" y2="432.025" stroke="#2f569f" stroke-width="0.9"/>
<line x1="292.40000000000003" y1="398.675" x2="295.8" y2="398.675" stroke="#2f569f" stroke-width="1.0"/>
<line x1="292.40000000000003" y1="432.025" x2="295.8" y2="432.025" stroke="#2f569f" stroke-width="1.0"/>
<line x1="306.75" y1="411.18125" x2="306.75" y2="424.52125" stroke="#f0a030" stroke-width="0.9"/>
<line x1="305.05" y1="411.18125" x2="308.45" y2="411.18125" stroke="#f0a030" stroke-width="1.0"/>
<line x1="305.05" y1="424.52125" x2="308.45" y2="424.52125" stroke="#f0a030" stroke-width="1.0"/>
<circle cx="261.5" cy="435.776875" r="1.75" fill="#fff" stroke="#2f569f" stroke-width="0.95"/>
<circle cx="266.5" cy="433.275625" r="1.75" fill="#fff" stroke="#2f569f" stroke-width="0.95"/>
<circle cx="261.5" cy="440.779375" r="1.75" fill="#fff" stroke="#2f569f" stroke-width="0.95"/>
<circle cx="266.5" cy="439.111875" r="1.75" fill="#fff" stroke="#2f569f" stroke-width="0.95"/>
<circle cx="264.0" cy="437.444375" r="1.75" fill="#fff" stroke="#2f569f" stroke-width="0.95"/>
<circle cx="277.35" cy="417.434375" r="1.75" fill="#fff" stroke="#f3a63c" stroke-width="0.95"/>
<circle cx="273.85" cy="432.025" r="1.75" fill="#fff" stroke="#f3a63c" stroke-width="0.95"/>
<circle cx="279.85" cy="432.025" r="1.75" fill="#fff" stroke="#f3a63c" stroke-width="0.95"/>
<circle cx="276.85" cy="427.85625" r="1.75" fill="#fff" stroke="#f3a63c" stroke-width="0.95"/>
<circle cx="274.85" cy="436.19374999999997" r="1.75" fill="#fff" stroke="#f3a63c" stroke-width="0.95"/>
<circle cx="291.6" cy="398.675" r="1.75" fill="#fff" stroke="#2f569f" stroke-width="0.95"/>
<circle cx="296.6" cy="398.675" r="1.75" fill="#fff" stroke="#2f569f" stroke-width="0.95"/>
<circle cx="292.1" cy="415.35" r="1.75" fill="#fff" stroke="#2f569f" stroke-width="0.95"/>
<circle cx="297.1" cy="412.84875" r="1.75" fill="#fff" stroke="#2f569f" stroke-width="0.95"/>
<circle cx="294.1" cy="427.0225" r="1.75" fill="#fff" stroke="#2f569f" stroke-width="0.95"/>
<circle cx="294.1" cy="437.86125" r="1.75" fill="#fff" stroke="#2f569f" stroke-width="0.95"/>
<circle cx="304.75" cy="407.0125" r="1.75" fill="#fff" stroke="#f3a63c" stroke-width="0.95"/>
<circle cx="309.75" cy="409.51375" r="1.75" fill="#fff" stroke="#f3a63c" stroke-width="0.95"/>
<circle cx="304.25" cy="424.52125" r="1.75" fill="#fff" stroke="#f3a63c" stroke-width="0.95"/>
<circle cx="309.25" cy="424.52125" r="1.75" fill="#fff" stroke="#f3a63c" stroke-width="0.95"/>
<circle cx="306.75" cy="419.51875" r="1.75" fill="#fff" stroke="#f3a63c" stroke-width="0.95"/>
<line x1="257.6" y1="379.5" x2="257.6" y2="449.3" stroke="#333" stroke-width="1.3"/>
<line x1="256.1" y1="448.7" x2="313.9" y2="448.7" stroke="#333" stroke-width="1.6"/>
<line x1="255.20000000000002" y1="448.7" x2="257.6" y2="448.7" stroke="#333" stroke-width="0.9"/>
<text x="251.10000000000002" y="451.0" font-size="6.5" text-anchor="end" fill="#444" font-weight="normal" >0</text>
<line x1="255.20000000000002" y1="432.025" x2="257.6" y2="432.025" stroke="#333" stroke-width="0.9"/>
<text x="251.10000000000002" y="434.325" font-size="6.5" text-anchor="end" fill="#444" font-weight="normal" >200</text>
<line x1="255.20000000000002" y1="415.35" x2="257.6" y2="415.35" stroke="#333" stroke-width="0.9"/>
<text x="251.10000000000002" y="417.65000000000003" font-size="6.5" text-anchor="end" fill="#444" font-weight="normal" >400</text>
<line x1="255.20000000000002" y1="398.675" x2="257.6" y2="398.675" stroke="#333" stroke-width="0.9"/>
<text x="251.10000000000002" y="400.975" font-size="6.5" text-anchor="end" fill="#444" font-weight="normal" >600</text>
<line x1="255.20000000000002" y1="382.0" x2="257.6" y2="382.0" stroke="#333" stroke-width="0.9"/>
<text x="251.10000000000002" y="384.3" font-size="6.5" text-anchor="end" fill="#444" font-weight="normal" >800</text>
<text x="231.10000000000002" y="414.1" font-size="7.9" text-anchor="middle" fill="#333" font-weight="normal" transform="rotate(-90 231.10000000000002 414.1)" textLength="36.5" lengthAdjust="spacingAndGlyphs" dominant-baseline="central" stroke="#333" stroke-width="0.28">CD11b+/MFI</text>
<line x1="276.5" y1="384.5" x2="306.9" y2="384.5" stroke="#484848" stroke-width="1.1"/>
<line x1="276.5" y1="381.4" x2="276.5" y2="387.6" stroke="#484848" stroke-width="1.1"/>
<line x1="306.9" y1="381.4" x2="306.9" y2="387.6" stroke="#484848" stroke-width="1.1"/>
<text x="291.7" y="383.6" font-size="6.2" text-anchor="middle" fill="#333" font-weight="bold" >*</text>
<line x1="263.9" y1="393.5" x2="293.6" y2="393.5" stroke="#484848" stroke-width="1.1"/>
<line x1="263.9" y1="390.4" x2="263.9" y2="396.6" stroke="#484848" stroke-width="1.1"/>
<line x1="293.6" y1="390.4" x2="293.6" y2="396.6" stroke="#484848" stroke-width="1.1"/>
<text x="278.75" y="392.6" font-size="6.2" text-anchor="middle" fill="#333" font-weight="bold" >*</text>
<line x1="260.7" y1="452.2" x2="281" y2="452.2" stroke="#555" stroke-width="1.3"/>
<text x="270.85" y="460.8" font-size="6.6" text-anchor="middle" fill="#444" font-weight="normal" >NaCl</text>
<line x1="290.4" y1="452.2" x2="310.7" y2="452.2" stroke="#555" stroke-width="1.3"/>
<text x="300.54999999999995" y="460.8" font-size="6.6" text-anchor="middle" fill="#444" font-weight="normal" >LPS</text>
<rect x="367" y="447.376" width="7.600000000000023" height="1.3240000000000123" fill="#7189bf" stroke="none" stroke-width="1" />
<rect x="379.6" y="447.045" width="7.599999999999966" height="1.6549999999999727" fill="#f9ca8c" stroke="none" stroke-width="1" />
<rect x="397" y="412.29" width="7.300000000000011" height="36.40999999999997" fill="#7189bf" stroke="none" stroke-width="1" />
<rect x="409.4" y="398.388" width="8.200000000000045" height="50.31200000000001" fill="#f9ca8c" stroke="none" stroke-width="1" />
<line x1="400.65" y1="397.726" x2="400.65" y2="427.51599999999996" stroke="#24447f" stroke-width="0.9"/>
<line x1="398.95" y1="397.726" x2="402.34999999999997" y2="397.726" stroke="#24447f" stroke-width="1.0"/>
<line x1="398.95" y1="427.51599999999996" x2="402.34999999999997" y2="427.51599999999996" stroke="#24447f" stroke-width="1.0"/>
<circle cx="368.8" cy="447.045" r="1.75" fill="#fff" stroke="#2f569f" stroke-width="0.95"/>
<circle cx="372.8" cy="446.714" r="1.75" fill="#fff" stroke="#2f569f" stroke-width="0.95"/>
<circle cx="370.8" cy="447.707" r="1.75" fill="#fff" stroke="#2f569f" stroke-width="0.95"/>
<circle cx="381.4" cy="446.714" r="1.75" fill="#fff" stroke="#f3a63c" stroke-width="0.95"/>
<circle cx="385.4" cy="446.383" r="1.75" fill="#fff" stroke="#f3a63c" stroke-width="0.95"/>
<circle cx="383.4" cy="447.376" r="1.75" fill="#fff" stroke="#f3a63c" stroke-width="0.95"/>
<circle cx="400.65" cy="397.726" r="1.75" fill="#fff" stroke="#2f569f" stroke-width="0.95"/>
<circle cx="398.15" cy="403.022" r="1.75" fill="#fff" stroke="#2f569f" stroke-width="0.95"/>
<circle cx="403.15" cy="406.99399999999997" r="1.75" fill="#fff" stroke="#2f569f" stroke-width="0.95"/>
<circle cx="400.65" cy="427.51599999999996" r="1.75" fill="#fff" stroke="#2f569f" stroke-width="0.95"/>
<circle cx="398.15" cy="427.51599999999996" r="1.75" fill="#fff" stroke="#2f569f" stroke-width="0.95"/>
<circle cx="403.15" cy="427.51599999999996" r="1.75" fill="#fff" stroke="#2f569f" stroke-width="0.95"/>
<circle cx="411.5" cy="398.388" r="1.75" fill="#fff" stroke="#f3a63c" stroke-width="0.95"/>
<circle cx="415.5" cy="398.388" r="1.75" fill="#fff" stroke="#f3a63c" stroke-width="0.95"/>
<circle cx="411.5" cy="402.691" r="1.75" fill="#fff" stroke="#f3a63c" stroke-width="0.95"/>
<circle cx="416.0" cy="402.36" r="1.75" fill="#fff" stroke="#f3a63c" stroke-width="0.95"/>
<circle cx="411.5" cy="406.001" r="1.75" fill="#fff" stroke="#f3a63c" stroke-width="0.95"/>
<circle cx="415.5" cy="405.67" r="1.75" fill="#fff" stroke="#f3a63c" stroke-width="0.95"/>
<line x1="364.5" y1="379.5" x2="364.5" y2="449.3" stroke="#333" stroke-width="1.3"/>
<line x1="363.0" y1="448.7" x2="419.5" y2="448.7" stroke="#333" stroke-width="1.6"/>
<line x1="362.1" y1="448.7" x2="364.5" y2="448.7" stroke="#333" stroke-width="0.9"/>
<text x="358.0" y="451.0" font-size="6.5" text-anchor="end" fill="#444" font-weight="normal" >0</text>
<line x1="362.1" y1="432.15" x2="364.5" y2="432.15" stroke="#333" stroke-width="0.9"/>
<text x="358.0" y="434.45" font-size="6.5" text-anchor="end" fill="#444" font-weight="normal" >500</text>
<line x1="362.1" y1="415.6" x2="364.5" y2="415.6" stroke="#333" stroke-width="0.9"/>
<text x="358.0" y="417.90000000000003" font-size="6.5" text-anchor="end" fill="#444" font-weight="normal" >1000</text>
<line x1="362.1" y1="399.05" x2="364.5" y2="399.05" stroke="#333" stroke-width="0.9"/>
<text x="358.0" y="401.35" font-size="6.5" text-anchor="end" fill="#444" font-weight="normal" >1500</text>
<line x1="362.1" y1="382.5" x2="364.5" y2="382.5" stroke="#333" stroke-width="0.9"/>
<text x="358.0" y="384.8" font-size="6.5" text-anchor="end" fill="#444" font-weight="normal" >2000</text>
<text x="333.6" y="414.1" font-size="7.9" text-anchor="middle" fill="#333" font-weight="normal" transform="rotate(-90 333.6 414.1)" textLength="54" lengthAdjust="spacingAndGlyphs" dominant-baseline="central" stroke="#333" stroke-width="0.28">CD42b+/MFI (FITC)</text>
<line x1="370.4" y1="382.5" x2="400.5" y2="382.5" stroke="#484848" stroke-width="1.1"/>
<line x1="370.4" y1="379.4" x2="370.4" y2="385.6" stroke="#484848" stroke-width="1.1"/>
<line x1="400.5" y1="379.4" x2="400.5" y2="385.6" stroke="#484848" stroke-width="1.1"/>
<text x="385.45" y="381.6" font-size="6.2" text-anchor="middle" fill="#333" font-weight="bold" >***</text>
<line x1="383.4" y1="390.5" x2="413.2" y2="390.5" stroke="#484848" stroke-width="1.1"/>
<line x1="383.4" y1="387.4" x2="383.4" y2="393.6" stroke="#484848" stroke-width="1.1"/>
<line x1="413.2" y1="387.4" x2="413.2" y2="393.6" stroke="#484848" stroke-width="1.1"/>
<text x="398.29999999999995" y="389.6" font-size="6.2" text-anchor="middle" fill="#333" font-weight="bold" >***</text>
<line x1="370.4" y1="398.5" x2="383.4" y2="398.5" stroke="#484848" stroke-width="1.1"/>
<line x1="370.4" y1="395.4" x2="370.4" y2="401.6" stroke="#484848" stroke-width="1.1"/>
<line x1="383.4" y1="395.4" x2="383.4" y2="401.6" stroke="#484848" stroke-width="1.1"/>
<text x="376.9" y="397.6" font-size="6.2" text-anchor="middle" fill="#333" font-weight="bold" >*</text>
<line x1="367.6" y1="452.2" x2="387.8" y2="452.2" stroke="#555" stroke-width="1.3"/>
<text x="377.70000000000005" y="460.8" font-size="6.6" text-anchor="middle" fill="#444" font-weight="normal" >NaCl</text>
<line x1="397" y1="452.2" x2="417.6" y2="452.2" stroke="#555" stroke-width="1.3"/>
<text x="407.3" y="460.8" font-size="6.6" text-anchor="middle" fill="#444" font-weight="normal" >LPS</text>
<circle cx="437.4" cy="367.5" r="2.3" fill="#fff" stroke="#2f569f" stroke-width="1.1"/>
<text x="443.3" y="370" font-size="6.6" text-anchor="start" fill="#333" font-weight="normal" textLength="49.3" lengthAdjust="spacingAndGlyphs" >WT +recSema7A</text>
<circle cx="437.4" cy="377.9" r="2.3" fill="#fff" stroke="#f3a63c" stroke-width="1.1"/>
<text x="443.3" y="380.4" font-size="6.6" text-anchor="start" fill="#333" font-weight="normal" textLength="24.7" lengthAdjust="spacingAndGlyphs" font-style="italic" >Sema7A</text>
<text x="468.5" y="377.6" font-size="4" text-anchor="start" fill="#555" font-weight="normal" >-/-</text>
<text x="477.1" y="380.4" font-size="6.6" text-anchor="start" fill="#333" font-weight="normal" textLength="36" lengthAdjust="spacingAndGlyphs" >+recSema7A</text>
<text x="7" y="488" font-size="12.3" text-anchor="start" fill="#111" font-weight="bold" stroke="#111" stroke-width="0.35">E</text>
<line x1="154" y1="493.5" x2="416" y2="493.5" stroke="#4a4a4a" stroke-width="1.8"/>
<text x="285.4" y="487.5" font-size="9" text-anchor="middle" fill="#262626" font-weight="normal" textLength="53" lengthAdjust="spacingAndGlyphs" stroke="#262626" stroke-width="0.15">LPS inhalation</text>
<rect x="51.25" y="507" width="53.25" height="53" fill="#fff" stroke="#b8b8b8" stroke-width="0.8" />
<clipPath id="c51_507"><rect x="51.25" y="507" width="53.25" height="53"/></clipPath><g clip-path="url(#c51_507)">
<path d="M83.60,530.60 C84.07,530.30 84.73,530.80 85.30,531.20 C85.87,531.60 86.50,532.20 87.00,533.00 C87.50,533.80 87.87,535.33 88.30,536.00 C88.73,536.67 89.47,535.50 89.60,537.00 C89.73,538.50 89.27,542.47 89.10,545.00 C88.93,547.53 88.52,550.33 88.60,552.20 C88.68,554.07 89.07,554.85 89.60,556.20 C90.13,557.55 94.02,559.62 91.80,560.30 C89.58,560.98 78.73,560.72 76.30,560.30 C73.87,559.88 76.58,558.75 77.20,557.80 C77.82,556.85 79.20,555.93 80.00,554.60 C80.80,553.27 81.57,552.07 82.00,549.80 C82.43,547.53 82.52,543.80 82.60,541.00 C82.68,538.20 82.33,534.73 82.50,533.00 C82.67,531.27 83.13,530.90 83.60,530.60 Z" fill="#34308f" stroke="none" stroke-width="1" />
<path d="M78.50,560.30 C76.92,559.67 79.67,557.63 80.50,556.50 C81.33,555.37 82.50,554.08 83.50,553.50 C84.50,552.92 85.67,552.50 86.50,553.00 C87.33,553.50 87.92,555.28 88.50,556.50 C89.08,557.72 91.67,559.67 90.00,560.30 C88.33,560.93 80.08,560.93 78.50,560.30 Z" fill="#3a5fad" stroke="none" stroke-width="1" />
<path d="M81.00,560.30 C80.12,559.75 82.50,557.55 83.50,557.00 C84.50,556.45 86.12,556.45 87.00,557.00 C87.88,557.55 89.80,559.75 88.80,560.30 C87.80,560.85 81.88,560.85 81.00,560.30 Z" fill="#5197c3" stroke="none" stroke-width="1" />
</g>
<line x1="77.5" y1="507" x2="77.5" y2="560" stroke="#4a4a4a" stroke-width="1.0"/>
<line x1="51.25" y1="544.5" x2="104.5" y2="544.5" stroke="#4a4a4a" stroke-width="1.0"/>
<line x1="51.25" y1="507" x2="51.25" y2="560" stroke="#a0a0a0" stroke-width="0.9"/>
<line x1="51.25" y1="560" x2="104.5" y2="560" stroke="#a0a0a0" stroke-width="0.9"/>
<line x1="49.75" y1="558.8" x2="51.25" y2="558.8" stroke="#666" stroke-width="0.8"/>
<text x="46.75" y="561.0999999999999" font-size="6.6" text-anchor="end" fill="#444">10<tspan dy="-2.5" font-size="4.4">0</tspan></text>
<line x1="49.75" y1="546.2" x2="51.25" y2="546.2" stroke="#666" stroke-width="0.8"/>
<text x="46.75" y="548.5" font-size="6.6" text-anchor="end" fill="#444">10<tspan dy="-2.5" font-size="4.4">1</tspan></text>
<line x1="49.75" y1="533.8" x2="51.25" y2="533.8" stroke="#666" stroke-width="0.8"/>
<text x="46.75" y="536.0999999999999" font-size="6.6" text-anchor="end" fill="#444">10<tspan dy="-2.5" font-size="4.4">2</tspan></text>
<line x1="49.75" y1="520.8" x2="51.25" y2="520.8" stroke="#666" stroke-width="0.8"/>
<text x="46.75" y="523.0999999999999" font-size="6.6" text-anchor="end" fill="#444">10<tspan dy="-2.5" font-size="4.4">3</tspan></text>
<line x1="49.75" y1="507.5" x2="51.25" y2="507.5" stroke="#666" stroke-width="0.8"/>
<text x="46.75" y="509.8" font-size="6.6" text-anchor="end" fill="#444">10<tspan dy="-2.5" font-size="4.4">4</tspan></text>
<line x1="52.45" y1="560" x2="52.45" y2="561.5" stroke="#666" stroke-width="0.8"/>
<text x="52.35" y="570.3" font-size="6.6" text-anchor="middle" fill="#444">10<tspan dy="-2.5" font-size="4.4">0</tspan></text>
<line x1="64.45" y1="560" x2="64.45" y2="561.5" stroke="#666" stroke-width="0.8"/>
<text x="64.35000000000001" y="570.3" font-size="6.6" text-anchor="middle" fill="#444">10<tspan dy="-2.5" font-size="4.4">1</tspan></text>
<line x1="77.45" y1="560" x2="77.45" y2="561.5" stroke="#666" stroke-width="0.8"/>
<text x="77.35000000000001" y="570.3" font-size="6.6" text-anchor="middle" fill="#444">10<tspan dy="-2.5" font-size="4.4">2</tspan></text>
<line x1="90.75" y1="560" x2="90.75" y2="561.5" stroke="#666" stroke-width="0.8"/>
<text x="90.65" y="570.3" font-size="6.6" text-anchor="middle" fill="#444">10<tspan dy="-2.5" font-size="4.4">3</tspan></text>
<line x1="103.05" y1="560" x2="103.05" y2="561.5" stroke="#666" stroke-width="0.8"/>
<text x="102.95" y="570.3" font-size="6.6" text-anchor="middle" fill="#444">10<tspan dy="-2.5" font-size="4.4">4</tspan></text>
<text x="28.55" y="534.0" font-size="8.9" text-anchor="middle" fill="#333" font-weight="normal" transform="rotate(-90 28.55 534.0)" textLength="35.5" lengthAdjust="spacingAndGlyphs" dominant-baseline="central" stroke="#333" stroke-width="0.25">CD42b - FITC</text>
<text x="76.875" y="583.9" font-size="10.1" text-anchor="middle" fill="#333" font-weight="normal" textLength="40.5" lengthAdjust="spacingAndGlyphs" stroke="#333" stroke-width="0.25">Ly6G – PE/Cy7</text>
<text x="77.575" y="501.9" font-size="6.8" text-anchor="middle" fill="#333" font-weight="normal" >WT - Sham</text>
<rect x="154.1" y="507.5" width="53.400000000000006" height="52.5" fill="#fff" stroke="#b8b8b8" stroke-width="0.8" />
<clipPath id="c154_507"><rect x="154.1" y="507.5" width="53.400000000000006" height="52.5"/></clipPath><g clip-path="url(#c154_507)">
<path d="M188.00,515.20 C189.08,514.50 190.03,514.07 191.00,513.60 C191.97,513.13 192.97,512.33 193.80,512.40 C194.63,512.47 195.38,513.27 196.00,514.00 C196.62,514.73 197.03,515.88 197.50,516.80 C197.97,517.72 198.62,518.67 198.80,519.50 C198.98,520.33 198.80,521.05 198.60,521.80 C198.40,522.55 198.03,523.07 197.60,524.00 C197.17,524.93 196.40,526.23 196.00,527.40 C195.60,528.57 195.53,529.67 195.20,531.00 C194.87,532.33 194.40,534.23 194.00,535.40 C193.60,536.57 193.10,537.20 192.80,538.00 C192.50,538.80 192.27,539.03 192.20,540.20 C192.13,541.37 192.43,543.40 192.40,545.00 C192.37,546.60 191.97,548.38 192.00,549.80 C192.03,551.22 192.52,552.30 192.60,553.50 C192.68,554.70 192.30,555.87 192.50,557.00 C192.70,558.13 195.97,559.75 193.80,560.30 C191.63,560.85 181.47,560.68 179.50,560.30 C177.53,559.92 181.25,558.68 182.00,558.00 C182.75,557.32 183.57,557.20 184.00,556.20 C184.43,555.20 184.43,553.33 184.60,552.00 C184.77,550.67 184.83,549.37 185.00,548.20 C185.17,547.03 185.43,546.07 185.60,545.00 C185.77,543.93 186.07,543.13 186.00,541.80 C185.93,540.47 185.45,538.60 185.20,537.00 C184.95,535.40 184.77,533.53 184.50,532.20 C184.23,530.87 183.68,530.07 183.60,529.00 C183.52,527.93 183.97,527.13 184.00,525.80 C184.03,524.47 183.72,522.33 183.80,521.00 C183.88,519.67 183.80,518.77 184.50,517.80 C185.20,516.83 186.92,515.90 188.00,515.20 Z" fill="#26237f" stroke="none" stroke-width="1" />
<path d="M188.80,517.20 C189.97,516.45 192.07,514.87 193.20,515.00 C194.33,515.13 195.13,516.83 195.60,518.00 C196.07,519.17 196.27,520.42 196.00,522.00 C195.73,523.58 194.67,525.42 194.00,527.50 C193.33,529.58 192.57,532.50 192.00,534.50 C191.43,536.50 190.83,536.92 190.60,539.50 C190.37,542.08 190.53,547.08 190.60,550.00 C190.67,552.92 190.85,555.28 191.00,557.00 C191.15,558.72 192.75,559.75 191.50,560.30 C190.25,560.85 184.42,560.98 183.50,560.30 C182.58,559.62 185.42,558.22 186.00,556.20 C186.58,554.18 186.73,550.60 187.00,548.20 C187.27,545.80 187.72,544.47 187.60,541.80 C187.48,539.13 186.60,534.87 186.30,532.20 C186.00,529.53 185.82,527.92 185.80,525.80 C185.78,523.68 185.70,520.93 186.20,519.50 C186.70,518.07 187.63,517.95 188.80,517.20 Z" fill="#3556b0" stroke="none" stroke-width="1" />
<ellipse cx="190" cy="524.5" rx="3.8" ry="5.6" fill="#4f8fd4" transform="rotate(10 190 524.5)"/>
<ellipse cx="189.8" cy="524.3" rx="3.0" ry="4.2" fill="#69b6e6" transform="rotate(10 189.8 524.3)"/>
<ellipse cx="189.6" cy="524.4" rx="2.0" ry="2.8" fill="#72d4cc" transform="rotate(10 189.6 524.4)"/>
<ellipse cx="189.5" cy="524.6" rx="1.0" ry="1.5" fill="#76c24e" transform="rotate(10 189.5 524.6)"/>
<path d="M186.00,560.30 C185.40,559.50 186.93,556.97 187.40,555.50 C187.87,554.03 188.33,551.58 188.80,551.50 C189.27,551.42 189.83,553.53 190.20,555.00 C190.57,556.47 191.70,559.42 191.00,560.30 C190.30,561.18 186.60,561.10 186.00,560.30 Z" fill="#4f8fd4" stroke="none" stroke-width="1" />
<path d="M186.60,560.30 C186.13,559.67 187.57,557.55 188.00,556.50 C188.43,555.45 188.83,553.92 189.20,554.00 C189.57,554.08 189.93,555.95 190.20,557.00 C190.47,558.05 191.40,559.75 190.80,560.30 C190.20,560.85 187.07,560.93 186.60,560.30 Z" fill="#72d4cc" stroke="none" stroke-width="1" />
<path d="M183.50,560.30 C182.42,560.05 184.75,559.05 186.00,558.80 C187.25,558.55 189.92,558.55 191.00,558.80 C192.08,559.05 193.75,560.05 192.50,560.30 C191.25,560.55 184.58,560.55 183.50,560.30 Z" fill="#6cc058" stroke="none" stroke-width="1" />
</g>
<line x1="180.5" y1="507.5" x2="180.5" y2="560" stroke="#4a4a4a" stroke-width="1.0"/>
<line x1="154.1" y1="544.5" x2="207.5" y2="544.5" stroke="#4a4a4a" stroke-width="1.0"/>
<line x1="154.1" y1="507.5" x2="154.1" y2="560" stroke="#a0a0a0" stroke-width="0.9"/>
<line x1="154.1" y1="560" x2="207.5" y2="560" stroke="#a0a0a0" stroke-width="0.9"/>
<line x1="152.6" y1="558.8" x2="154.1" y2="558.8" stroke="#666" stroke-width="0.8"/>
<text x="149.6" y="561.0999999999999" font-size="6.6" text-anchor="end" fill="#444">10<tspan dy="-2.5" font-size="4.4">0</tspan></text>
<line x1="152.6" y1="546.2" x2="154.1" y2="546.2" stroke="#666" stroke-width="0.8"/>
<text x="149.6" y="548.5" font-size="6.6" text-anchor="end" fill="#444">10<tspan dy="-2.5" font-size="4.4">1</tspan></text>
<line x1="152.6" y1="533.8" x2="154.1" y2="533.8" stroke="#666" stroke-width="0.8"/>
<text x="149.6" y="536.0999999999999" font-size="6.6" text-anchor="end" fill="#444">10<tspan dy="-2.5" font-size="4.4">2</tspan></text>
<line x1="152.6" y1="520.8" x2="154.1" y2="520.8" stroke="#666" stroke-width="0.8"/>
<text x="149.6" y="523.0999999999999" font-size="6.6" text-anchor="end" fill="#444">10<tspan dy="-2.5" font-size="4.4">3</tspan></text>
<line x1="152.6" y1="507.5" x2="154.1" y2="507.5" stroke="#666" stroke-width="0.8"/>
<text x="149.6" y="509.8" font-size="6.6" text-anchor="end" fill="#444">10<tspan dy="-2.5" font-size="4.4">4</tspan></text>
<line x1="155.29999999999998" y1="560" x2="155.29999999999998" y2="561.5" stroke="#666" stroke-width="0.8"/>
<text x="155.2" y="570.3" font-size="6.6" text-anchor="middle" fill="#444">10<tspan dy="-2.5" font-size="4.4">0</tspan></text>
<line x1="167.29999999999998" y1="560" x2="167.29999999999998" y2="561.5" stroke="#666" stroke-width="0.8"/>
<text x="167.2" y="570.3" font-size="6.6" text-anchor="middle" fill="#444">10<tspan dy="-2.5" font-size="4.4">1</tspan></text>
<line x1="180.29999999999998" y1="560" x2="180.29999999999998" y2="561.5" stroke="#666" stroke-width="0.8"/>
<text x="180.2" y="570.3" font-size="6.6" text-anchor="middle" fill="#444">10<tspan dy="-2.5" font-size="4.4">2</tspan></text>
<line x1="193.6" y1="560" x2="193.6" y2="561.5" stroke="#666" stroke-width="0.8"/>
<text x="193.5" y="570.3" font-size="6.6" text-anchor="middle" fill="#444">10<tspan dy="-2.5" font-size="4.4">3</tspan></text>
<line x1="205.89999999999998" y1="560" x2="205.89999999999998" y2="561.5" stroke="#666" stroke-width="0.8"/>
<text x="205.79999999999998" y="570.3" font-size="6.6" text-anchor="middle" fill="#444">10<tspan dy="-2.5" font-size="4.4">4</tspan></text>
<text x="131.4" y="534.25" font-size="8.9" text-anchor="middle" fill="#333" font-weight="normal" transform="rotate(-90 131.4 534.25)" textLength="35.5" lengthAdjust="spacingAndGlyphs" dominant-baseline="central" stroke="#333" stroke-width="0.25">CD42b - FITC</text>
<text x="179.8" y="583.9" font-size="10.1" text-anchor="middle" fill="#333" font-weight="normal" textLength="40.5" lengthAdjust="spacingAndGlyphs" stroke="#333" stroke-width="0.25">Ly6G – PE/Cy7</text>
<text x="180.5" y="502.4" font-size="6.8" text-anchor="middle" fill="#333" font-weight="normal" >WT</text>
<rect x="257.3" y="507.5" width="52.80000000000001" height="52.5" fill="#fff" stroke="#b8b8b8" stroke-width="0.8" />
<clipPath id="c257_507"><rect x="257.3" y="507.5" width="52.80000000000001" height="52.5"/></clipPath><g clip-path="url(#c257_507)">
<path d="M291.20,519.80 C291.87,519.23 292.37,519.23 293.00,519.20 C293.63,519.17 294.25,519.70 295.00,519.60 C295.75,519.50 296.80,518.72 297.50,518.60 C298.20,518.48 298.78,518.50 299.20,518.90 C299.62,519.30 299.93,520.12 300.00,521.00 C300.07,521.88 299.80,523.28 299.60,524.20 C299.40,525.12 298.97,525.70 298.80,526.50 C298.63,527.30 298.73,527.92 298.60,529.00 C298.47,530.08 298.17,531.67 298.00,533.00 C297.83,534.33 297.73,535.67 297.60,537.00 C297.47,538.33 297.37,539.67 297.20,541.00 C297.03,542.33 296.73,543.50 296.60,545.00 C296.47,546.50 296.48,548.40 296.40,550.00 C296.32,551.60 296.07,553.35 296.10,554.60 C296.13,555.85 296.35,556.55 296.60,557.50 C296.85,558.45 299.07,559.83 297.60,560.30 C296.13,560.77 289.33,560.77 287.80,560.30 C286.27,559.83 288.27,558.45 288.40,557.50 C288.53,556.55 288.43,555.85 288.60,554.60 C288.77,553.35 289.17,551.60 289.40,550.00 C289.63,548.40 289.87,546.50 290.00,545.00 C290.13,543.50 290.20,542.33 290.20,541.00 C290.20,539.67 290.20,538.33 290.00,537.00 C289.80,535.67 289.23,534.33 289.00,533.00 C288.77,531.67 288.73,530.25 288.60,529.00 C288.47,527.75 288.13,526.57 288.20,525.50 C288.27,524.43 288.50,523.55 289.00,522.60 C289.50,521.65 290.53,520.37 291.20,519.80 Z" fill="#2e2a8a" stroke="none" stroke-width="1" />
<path d="M292.12,522.22 C292.52,521.73 292.82,521.73 293.20,521.70 C293.58,521.67 293.95,522.14 294.40,522.05 C294.85,521.96 295.48,521.27 295.90,521.17 C296.32,521.07 296.67,521.08 296.92,521.43 C297.17,521.78 297.36,522.50 297.40,523.28 C297.44,524.06 297.28,525.29 297.16,526.10 C297.04,526.90 296.78,527.42 296.68,528.12 C296.58,528.82 296.64,529.37 296.56,530.32 C296.48,531.27 296.30,532.67 296.20,533.84 C296.10,535.01 296.04,536.19 295.96,537.36 C295.88,538.53 295.82,539.71 295.72,540.88 C295.62,542.05 295.44,543.08 295.36,544.40 C295.28,545.72 295.29,547.39 295.24,548.80 C295.19,550.21 295.04,551.75 295.06,552.85 C295.08,553.95 295.21,554.56 295.36,555.40 C295.51,556.24 296.84,557.45 295.96,557.86 C295.08,558.27 291.00,558.27 290.08,557.86 C289.16,557.45 290.36,556.24 290.44,555.40 C290.52,554.56 290.46,553.95 290.56,552.85 C290.66,551.75 290.90,550.21 291.04,548.80 C291.18,547.39 291.32,545.72 291.40,544.40 C291.48,543.08 291.52,542.05 291.52,540.88 C291.52,539.71 291.52,538.53 291.40,537.36 C291.28,536.19 290.94,535.01 290.80,533.84 C290.66,532.67 290.64,531.42 290.56,530.32 C290.48,529.22 290.28,528.18 290.32,527.24 C290.36,526.30 290.50,525.52 290.80,524.69 C291.10,523.85 291.72,522.72 292.12,522.22 Z" fill="#3b55b0" stroke="none" stroke-width="1" />
<ellipse cx="293.5" cy="527.5" rx="2.0" ry="3.0" fill="#4a90d0" transform="rotate(0 293.5 527.5)"/>
<ellipse cx="293.5" cy="527.3" rx="1.0" ry="1.5" fill="#5cc0e0" transform="rotate(0 293.5 527.3)"/>
<ellipse cx="293.3" cy="545" rx="1.2" ry="3.5" fill="#4166bb" transform="rotate(0 293.3 545)"/>
<path d="M290.00,560.30 C289.30,559.33 290.80,555.80 291.30,554.50 C291.80,553.20 292.47,552.58 293.00,552.50 C293.53,552.42 294.08,552.70 294.50,554.00 C294.92,555.30 296.25,559.25 295.50,560.30 C294.75,561.35 290.70,561.27 290.00,560.30 Z" fill="#4a9ad0" stroke="none" stroke-width="1" />
<path d="M290.80,560.30 C290.33,559.75 291.47,557.55 292.00,557.00 C292.53,556.45 293.53,556.45 294.00,557.00 C294.47,557.55 295.33,559.75 294.80,560.30 C294.27,560.85 291.27,560.85 290.80,560.30 Z" fill="#60c8d8" stroke="none" stroke-width="1" />
</g>
<line x1="283.5" y1="507.5" x2="283.5" y2="560" stroke="#4a4a4a" stroke-width="1.0"/>
<line x1="257.3" y1="544.5" x2="310.1" y2="544.5" stroke="#4a4a4a" stroke-width="1.0"/>
<line x1="257.3" y1="507.5" x2="257.3" y2="560" stroke="#a0a0a0" stroke-width="0.9"/>
<line x1="257.3" y1="560" x2="310.1" y2="560" stroke="#a0a0a0" stroke-width="0.9"/>
<line x1="255.8" y1="558.8" x2="257.3" y2="558.8" stroke="#666" stroke-width="0.8"/>
<text x="252.8" y="561.0999999999999" font-size="6.6" text-anchor="end" fill="#444">10<tspan dy="-2.5" font-size="4.4">0</tspan></text>
<line x1="255.8" y1="546.2" x2="257.3" y2="546.2" stroke="#666" stroke-width="0.8"/>
<text x="252.8" y="548.5" font-size="6.6" text-anchor="end" fill="#444">10<tspan dy="-2.5" font-size="4.4">1</tspan></text>
<line x1="255.8" y1="533.8" x2="257.3" y2="533.8" stroke="#666" stroke-width="0.8"/>
<text x="252.8" y="536.0999999999999" font-size="6.6" text-anchor="end" fill="#444">10<tspan dy="-2.5" font-size="4.4">2</tspan></text>
<line x1="255.8" y1="520.8" x2="257.3" y2="520.8" stroke="#666" stroke-width="0.8"/>
<text x="252.8" y="523.0999999999999" font-size="6.6" text-anchor="end" fill="#444">10<tspan dy="-2.5" font-size="4.4">3</tspan></text>
<line x1="255.8" y1="507.5" x2="257.3" y2="507.5" stroke="#666" stroke-width="0.8"/>
<text x="252.8" y="509.8" font-size="6.6" text-anchor="end" fill="#444">10<tspan dy="-2.5" font-size="4.4">4</tspan></text>
<line x1="258.5" y1="560" x2="258.5" y2="561.5" stroke="#666" stroke-width="0.8"/>
<text x="258.4" y="570.3" font-size="6.6" text-anchor="middle" fill="#444">10<tspan dy="-2.5" font-size="4.4">0</tspan></text>
<line x1="270.5" y1="560" x2="270.5" y2="561.5" stroke="#666" stroke-width="0.8"/>
<text x="270.4" y="570.3" font-size="6.6" text-anchor="middle" fill="#444">10<tspan dy="-2.5" font-size="4.4">1</tspan></text>
<line x1="283.5" y1="560" x2="283.5" y2="561.5" stroke="#666" stroke-width="0.8"/>
<text x="283.4" y="570.3" font-size="6.6" text-anchor="middle" fill="#444">10<tspan dy="-2.5" font-size="4.4">2</tspan></text>
<line x1="296.8" y1="560" x2="296.8" y2="561.5" stroke="#666" stroke-width="0.8"/>
<text x="296.7" y="570.3" font-size="6.6" text-anchor="middle" fill="#444">10<tspan dy="-2.5" font-size="4.4">3</tspan></text>
<line x1="309.1" y1="560" x2="309.1" y2="561.5" stroke="#666" stroke-width="0.8"/>
<text x="309.0" y="570.3" font-size="6.6" text-anchor="middle" fill="#444">10<tspan dy="-2.5" font-size="4.4">4</tspan></text>
<text x="234.60000000000002" y="534.25" font-size="8.9" text-anchor="middle" fill="#333" font-weight="normal" transform="rotate(-90 234.60000000000002 534.25)" textLength="35.5" lengthAdjust="spacingAndGlyphs" dominant-baseline="central" stroke="#333" stroke-width="0.25">CD42b - FITC</text>
<text x="282.70000000000005" y="583.9" font-size="10.1" text-anchor="middle" fill="#333" font-weight="normal" textLength="40.5" lengthAdjust="spacingAndGlyphs" stroke="#333" stroke-width="0.25">Ly6G – PE/Cy7</text>
<text x="283.40000000000003" y="502.4" font-size="6.8" text-anchor="middle" fill="#333" font-weight="normal" >+IgG</text>
<rect x="363.5" y="507.5" width="52.69999999999999" height="52.5" fill="#fff" stroke="#b8b8b8" stroke-width="0.8" />
<clipPath id="c363_507"><rect x="363.5" y="507.5" width="52.69999999999999" height="52.5"/></clipPath><g clip-path="url(#c363_507)">
<path d="M396.50,535.50 C397.08,534.65 398.45,533.68 399.50,533.40 C400.55,533.12 402.17,533.20 402.80,533.80 C403.43,534.40 403.28,535.13 403.30,537.00 C403.32,538.87 402.95,542.50 402.90,545.00 C402.85,547.50 402.82,550.00 403.00,552.00 C403.18,554.00 403.40,555.62 404.00,557.00 C404.60,558.38 408.97,559.75 406.60,560.30 C404.23,560.85 391.93,560.77 389.80,560.30 C387.67,559.83 392.83,558.72 393.80,557.50 C394.77,556.28 395.23,555.08 395.60,553.00 C395.97,550.92 395.93,547.42 396.00,545.00 C396.07,542.58 395.92,540.08 396.00,538.50 C396.08,536.92 395.92,536.35 396.50,535.50 Z" fill="#34308f" stroke="none" stroke-width="1" />
<path d="M392.50,560.30 C391.05,559.58 393.97,557.13 394.80,556.00 C395.63,554.87 396.55,553.83 397.50,553.50 C398.45,553.17 399.67,553.42 400.50,554.00 C401.33,554.58 402.00,555.95 402.50,557.00 C403.00,558.05 405.17,559.75 403.50,560.30 C401.83,560.85 393.95,561.02 392.50,560.30 Z" fill="#3b5aaa" stroke="none" stroke-width="1" />
<path d="M395.00,560.30 C394.20,559.80 396.17,557.85 397.00,557.30 C397.83,556.75 399.20,556.50 400.00,557.00 C400.80,557.50 402.63,559.75 401.80,560.30 C400.97,560.85 395.80,560.80 395.00,560.30 Z" fill="#4ea7b8" stroke="none" stroke-width="1" />
</g>
<line x1="390.5" y1="507.5" x2="390.5" y2="560" stroke="#4a4a4a" stroke-width="1.0"/>
<line x1="363.5" y1="544.5" x2="416.2" y2="544.5" stroke="#4a4a4a" stroke-width="1.0"/>
<line x1="363.5" y1="507.5" x2="363.5" y2="560" stroke="#a0a0a0" stroke-width="0.9"/>
<line x1="363.5" y1="560" x2="416.2" y2="560" stroke="#a0a0a0" stroke-width="0.9"/>
<line x1="362.0" y1="558.8" x2="363.5" y2="558.8" stroke="#666" stroke-width="0.8"/>
<text x="359.0" y="561.0999999999999" font-size="6.6" text-anchor="end" fill="#444">10<tspan dy="-2.5" font-size="4.4">0</tspan></text>
<line x1="362.0" y1="546.2" x2="363.5" y2="546.2" stroke="#666" stroke-width="0.8"/>
<text x="359.0" y="548.5" font-size="6.6" text-anchor="end" fill="#444">10<tspan dy="-2.5" font-size="4.4">1</tspan></text>
<line x1="362.0" y1="533.8" x2="363.5" y2="533.8" stroke="#666" stroke-width="0.8"/>
<text x="359.0" y="536.0999999999999" font-size="6.6" text-anchor="end" fill="#444">10<tspan dy="-2.5" font-size="4.4">2</tspan></text>
<line x1="362.0" y1="520.8" x2="363.5" y2="520.8" stroke="#666" stroke-width="0.8"/>
<text x="359.0" y="523.0999999999999" font-size="6.6" text-anchor="end" fill="#444">10<tspan dy="-2.5" font-size="4.4">3</tspan></text>
<line x1="362.0" y1="507.5" x2="363.5" y2="507.5" stroke="#666" stroke-width="0.8"/>
<text x="359.0" y="509.8" font-size="6.6" text-anchor="end" fill="#444">10<tspan dy="-2.5" font-size="4.4">4</tspan></text>
<line x1="364.7" y1="560" x2="364.7" y2="561.5" stroke="#666" stroke-width="0.8"/>
<text x="364.59999999999997" y="570.3" font-size="6.6" text-anchor="middle" fill="#444">10<tspan dy="-2.5" font-size="4.4">0</tspan></text>
<line x1="376.7" y1="560" x2="376.7" y2="561.5" stroke="#666" stroke-width="0.8"/>
<text x="376.59999999999997" y="570.3" font-size="6.6" text-anchor="middle" fill="#444">10<tspan dy="-2.5" font-size="4.4">1</tspan></text>
<line x1="389.7" y1="560" x2="389.7" y2="561.5" stroke="#666" stroke-width="0.8"/>
<text x="389.59999999999997" y="570.3" font-size="6.6" text-anchor="middle" fill="#444">10<tspan dy="-2.5" font-size="4.4">2</tspan></text>
<line x1="403.0" y1="560" x2="403.0" y2="561.5" stroke="#666" stroke-width="0.8"/>
<text x="402.9" y="570.3" font-size="6.6" text-anchor="middle" fill="#444">10<tspan dy="-2.5" font-size="4.4">3</tspan></text>
<line x1="415.3" y1="560" x2="415.3" y2="561.5" stroke="#666" stroke-width="0.8"/>
<text x="415.2" y="570.3" font-size="6.6" text-anchor="middle" fill="#444">10<tspan dy="-2.5" font-size="4.4">4</tspan></text>
<text x="340.8" y="534.25" font-size="8.9" text-anchor="middle" fill="#333" font-weight="normal" transform="rotate(-90 340.8 534.25)" textLength="35.5" lengthAdjust="spacingAndGlyphs" dominant-baseline="central" stroke="#333" stroke-width="0.25">CD42b - FITC</text>
<text x="388.85" y="583.9" font-size="10.1" text-anchor="middle" fill="#333" font-weight="normal" textLength="40.5" lengthAdjust="spacingAndGlyphs" stroke="#333" stroke-width="0.25">Ly6G – PE/Cy7</text>
<text x="389.55" y="502.4" font-size="6.8" text-anchor="middle" fill="#333" font-weight="normal" textLength="40" lengthAdjust="spacingAndGlyphs" >+anti-Sema7A</text>
<text x="8" y="611" font-size="12.3" text-anchor="start" fill="#111" font-weight="bold" stroke="#111" stroke-width="0.35">F</text>
<rect x="54.6" y="684.997" width="8.100000000000001" height="6.003000000000043" fill="#8a8f98" stroke="none" stroke-width="1" />
<rect x="71.5" y="666.9879999999999" width="8.200000000000003" height="24.012000000000057" fill="#bfdcf5" stroke="none" stroke-width="1" />
<rect x="83.6" y="664.987" width="8.600000000000009" height="26.013000000000034" fill="#d9a97c" stroke="none" stroke-width="1" />
<rect x="95.9" y="682.996" width="8.799999999999997" height="8.004000000000019" fill="#f8dc82" stroke="none" stroke-width="1" />
<circle cx="58.650000000000006" cy="682.996" r="1.75" fill="#fff" stroke="#3f444d" stroke-width="0.95"/>
<circle cx="56.45" cy="684.997" r="1.75" fill="#fff" stroke="#3f444d" stroke-width="0.95"/>
<circle cx="60.85000000000001" cy="684.997" r="1.75" fill="#fff" stroke="#3f444d" stroke-width="0.95"/>
<circle cx="58.650000000000006" cy="685.664" r="1.75" fill="#fff" stroke="#3f444d" stroke-width="0.95"/>
<circle cx="57.150000000000006" cy="687.665" r="1.75" fill="#fff" stroke="#3f444d" stroke-width="0.95"/>
<circle cx="60.150000000000006" cy="687.665" r="1.75" fill="#fff" stroke="#3f444d" stroke-width="0.95"/>
<circle cx="58.650000000000006" cy="684.33" r="1.75" fill="#fff" stroke="#3f444d" stroke-width="0.95"/>
<circle cx="75.6" cy="632.971" r="1.75" fill="#fff" stroke="#4aa9df" stroke-width="0.95"/>
<circle cx="73.1" cy="665.654" r="1.75" fill="#fff" stroke="#4aa9df" stroke-width="0.95"/>
<circle cx="78.1" cy="667.655" r="1.75" fill="#fff" stroke="#4aa9df" stroke-width="0.95"/>
<circle cx="73.1" cy="671.657" r="1.75" fill="#fff" stroke="#4aa9df" stroke-width="0.95"/>
<circle cx="78.1" cy="672.324" r="1.75" fill="#fff" stroke="#4aa9df" stroke-width="0.95"/>
<circle cx="73.1" cy="676.326" r="1.75" fill="#fff" stroke="#4aa9df" stroke-width="0.95"/>
<circle cx="78.1" cy="674.992" r="1.75" fill="#fff" stroke="#4aa9df" stroke-width="0.95"/>
<circle cx="75.6" cy="677.66" r="1.75" fill="#fff" stroke="#4aa9df" stroke-width="0.95"/>
<circle cx="73.1" cy="680.995" r="1.75" fill="#fff" stroke="#4aa9df" stroke-width="0.95"/>
<circle cx="78.1" cy="680.995" r="1.75" fill="#fff" stroke="#4aa9df" stroke-width="0.95"/>
<circle cx="75.6" cy="684.997" r="1.75" fill="#fff" stroke="#4aa9df" stroke-width="0.95"/>
<circle cx="73.6" cy="687.665" r="1.75" fill="#fff" stroke="#4aa9df" stroke-width="0.95"/>
<circle cx="77.6" cy="687.665" r="1.75" fill="#fff" stroke="#4aa9df" stroke-width="0.95"/>
<circle cx="90.4" cy="636.3059999999999" r="1.75" fill="#fff" stroke="#b77340" stroke-width="0.95"/>
<circle cx="88.4" cy="638.9739999999999" r="1.75" fill="#fff" stroke="#b77340" stroke-width="0.95"/>
<circle cx="86.9" cy="642.976" r="1.75" fill="#fff" stroke="#b77340" stroke-width="0.95"/>
<circle cx="85.4" cy="664.3199999999999" r="1.75" fill="#fff" stroke="#b77340" stroke-width="0.95"/>
<circle cx="85.4" cy="668.322" r="1.75" fill="#fff" stroke="#b77340" stroke-width="0.95"/>
<circle cx="90.4" cy="668.989" r="1.75" fill="#fff" stroke="#b77340" stroke-width="0.95"/>
<circle cx="90.4" cy="672.991" r="1.75" fill="#fff" stroke="#b77340" stroke-width="0.95"/>
<circle cx="85.4" cy="675.659" r="1.75" fill="#fff" stroke="#b77340" stroke-width="0.95"/>
<circle cx="87.9" cy="677.66" r="1.75" fill="#fff" stroke="#b77340" stroke-width="0.95"/>
<circle cx="90.4" cy="681.662" r="1.75" fill="#fff" stroke="#b77340" stroke-width="0.95"/>
<circle cx="85.4" cy="684.33" r="1.75" fill="#fff" stroke="#b77340" stroke-width="0.95"/>
<circle cx="87.9" cy="686.998" r="1.75" fill="#fff" stroke="#b77340" stroke-width="0.95"/>
<circle cx="100.30000000000001" cy="667.655" r="1.75" fill="#fff" stroke="#efbf3c" stroke-width="0.95"/>
<circle cx="98.30000000000001" cy="684.33" r="1.75" fill="#fff" stroke="#efbf3c" stroke-width="0.95"/>
<circle cx="102.30000000000001" cy="685.664" r="1.75" fill="#fff" stroke="#efbf3c" stroke-width="0.95"/>
<circle cx="100.30000000000001" cy="687.665" r="1.75" fill="#fff" stroke="#efbf3c" stroke-width="0.95"/>
<line x1="58.650000000000006" y1="682.329" x2="58.650000000000006" y2="687.665" stroke="#2b2e38" stroke-width="1.1"/>
<line x1="56.95" y1="682.329" x2="60.35000000000001" y2="682.329" stroke="#2b2e38" stroke-width="1.0"/>
<line x1="56.95" y1="687.665" x2="60.35000000000001" y2="687.665" stroke="#2b2e38" stroke-width="1.0"/>
<line x1="75.6" y1="652.981" x2="75.6" y2="680.995" stroke="#2b2e38" stroke-width="1.1"/>
<line x1="73.89999999999999" y1="652.981" x2="77.3" y2="652.981" stroke="#2b2e38" stroke-width="1.0"/>
<line x1="73.89999999999999" y1="680.995" x2="77.3" y2="680.995" stroke="#2b2e38" stroke-width="1.0"/>
<line x1="87.9" y1="648.312" x2="87.9" y2="680.328" stroke="#2b2e38" stroke-width="1.1"/>
<line x1="86.2" y1="648.312" x2="89.60000000000001" y2="648.312" stroke="#2b2e38" stroke-width="1.0"/>
<line x1="86.2" y1="680.328" x2="89.60000000000001" y2="680.328" stroke="#2b2e38" stroke-width="1.0"/>
<line x1="100.30000000000001" y1="677.66" x2="100.30000000000001" y2="688.332" stroke="#2b2e38" stroke-width="1.1"/>
<line x1="98.60000000000001" y1="677.66" x2="102.00000000000001" y2="677.66" stroke="#2b2e38" stroke-width="1.0"/>
<line x1="98.60000000000001" y1="688.332" x2="102.00000000000001" y2="688.332" stroke="#2b2e38" stroke-width="1.0"/>
<line x1="51.6" y1="621.8" x2="51.6" y2="691.6" stroke="#333" stroke-width="1.3"/>
<line x1="50.1" y1="691" x2="106.5" y2="691" stroke="#333" stroke-width="1.6"/>
<line x1="49.2" y1="691.0" x2="51.6" y2="691.0" stroke="#333" stroke-width="0.9"/>
<text x="45.1" y="693.3" font-size="6.5" text-anchor="end" fill="#444" font-weight="normal" >0</text>
<line x1="49.2" y1="677.66" x2="51.6" y2="677.66" stroke="#333" stroke-width="0.9"/>
<text x="45.1" y="679.9599999999999" font-size="6.5" text-anchor="end" fill="#444" font-weight="normal" >20</text>
<line x1="49.2" y1="664.3199999999999" x2="51.6" y2="664.3199999999999" stroke="#333" stroke-width="0.9"/>
<text x="45.1" y="666.6199999999999" font-size="6.5" text-anchor="end" fill="#444" font-weight="normal" >40</text>
<line x1="49.2" y1="650.98" x2="51.6" y2="650.98" stroke="#333" stroke-width="0.9"/>
<text x="45.1" y="653.28" font-size="6.5" text-anchor="end" fill="#444" font-weight="normal" >60</text>
<line x1="49.2" y1="637.64" x2="51.6" y2="637.64" stroke="#333" stroke-width="0.9"/>
<text x="45.1" y="639.9399999999999" font-size="6.5" text-anchor="end" fill="#444" font-weight="normal" >80</text>
<line x1="49.2" y1="624.3" x2="51.6" y2="624.3" stroke="#333" stroke-width="0.9"/>
<text x="45.1" y="626.5999999999999" font-size="6.5" text-anchor="end" fill="#444" font-weight="normal" >100</text>
<text x="26.5" y="656.4" font-size="7.9" text-anchor="middle" fill="#333" font-weight="normal" transform="rotate(-90 26.5 656.4)" textLength="68" lengthAdjust="spacingAndGlyphs" dominant-baseline="central" stroke="#333" stroke-width="0.28">PNCs - frequency of parent</text>
<line x1="75.2" y1="611.5" x2="100.8" y2="611.5" stroke="#484848" stroke-width="1.1"/>
<line x1="75.2" y1="608.4" x2="75.2" y2="614.6" stroke="#484848" stroke-width="1.1"/>
<line x1="100.8" y1="608.4" x2="100.8" y2="614.6" stroke="#484848" stroke-width="1.1"/>
<text x="88.0" y="610.6" font-size="6.2" text-anchor="middle" fill="#333" font-weight="bold" >**</text>
<line x1="58.3" y1="619.5" x2="87.5" y2="619.5" stroke="#484848" stroke-width="1.1"/>
<line x1="58.3" y1="616.4" x2="58.3" y2="622.6" stroke="#484848" stroke-width="1.1"/>
<line x1="87.5" y1="616.4" x2="87.5" y2="622.6" stroke="#484848" stroke-width="1.1"/>
<text x="72.9" y="618.6" font-size="6.2" text-anchor="middle" fill="#333" font-weight="bold" >***</text>
<line x1="58.3" y1="627.5" x2="75.2" y2="627.5" stroke="#484848" stroke-width="1.1"/>
<line x1="58.3" y1="624.4" x2="58.3" y2="630.6" stroke="#484848" stroke-width="1.1"/>
<line x1="75.2" y1="624.4" x2="75.2" y2="630.6" stroke="#484848" stroke-width="1.1"/>
<text x="66.75" y="626.6" font-size="6.2" text-anchor="middle" fill="#333" font-weight="bold" >***</text>
<line x1="87.5" y1="627.5" x2="100.8" y2="627.5" stroke="#484848" stroke-width="1.1"/>
<line x1="87.5" y1="624.4" x2="87.5" y2="630.6" stroke="#484848" stroke-width="1.1"/>
<line x1="100.8" y1="624.4" x2="100.8" y2="630.6" stroke="#484848" stroke-width="1.1"/>
<text x="94.15" y="626.6" font-size="6.2" text-anchor="middle" fill="#333" font-weight="bold" >**</text>
<line x1="71.3" y1="694.6" x2="106.2" y2="694.6" stroke="#555" stroke-width="1.3"/>
<text x="88.75" y="702.8" font-size="6.6" text-anchor="middle" fill="#444" font-weight="normal" >LPS</text>
<rect x="157" y="688.49875" width="8.400000000000006" height="2.5012500000000273" fill="#8a8f98" stroke="none" stroke-width="1" />
<rect x="174.7" y="654.3149999999999" width="7.700000000000017" height="36.68500000000006" fill="#bfdcf5" stroke="none" stroke-width="1" />
<rect x="187" y="655.9825" width="7.800000000000011" height="35.01750000000004" fill="#d9a97c" stroke="none" stroke-width="1" />
<rect x="199.7" y="678.49375" width="7.700000000000017" height="12.506250000000023" fill="#f8dc82" stroke="none" stroke-width="1" />
<circle cx="161.2" cy="685.16375" r="1.75" fill="#fff" stroke="#3f444d" stroke-width="0.95"/>
<circle cx="159.2" cy="688.999" r="1.75" fill="#fff" stroke="#3f444d" stroke-width="0.95"/>
<circle cx="163.2" cy="689.3325" r="1.75" fill="#fff" stroke="#3f444d" stroke-width="0.95"/>
<circle cx="175.55" cy="640.9749999999999" r="1.75" fill="#fff" stroke="#4aa9df" stroke-width="0.95"/>
<circle cx="181.55" cy="640.9749999999999" r="1.75" fill="#fff" stroke="#4aa9df" stroke-width="0.95"/>
<circle cx="178.55" cy="637.64" r="1.75" fill="#fff" stroke="#4aa9df" stroke-width="0.95"/>
<circle cx="176.55" cy="649.3125" r="1.75" fill="#fff" stroke="#4aa9df" stroke-width="0.95"/>
<circle cx="180.55" cy="659.3175" r="1.75" fill="#fff" stroke="#4aa9df" stroke-width="0.95"/>
<circle cx="178.55" cy="672.6575" r="1.75" fill="#fff" stroke="#4aa9df" stroke-width="0.95"/>
<circle cx="178.55" cy="679.3275" r="1.75" fill="#fff" stroke="#4aa9df" stroke-width="0.95"/>
<circle cx="190.9" cy="629.3025" r="1.75" fill="#fff" stroke="#b77340" stroke-width="0.95"/>
<circle cx="190.9" cy="650.98" r="1.75" fill="#fff" stroke="#b77340" stroke-width="0.95"/>
<circle cx="188.9" cy="660.15125" r="1.75" fill="#fff" stroke="#b77340" stroke-width="0.95"/>
<circle cx="192.9" cy="660.15125" r="1.75" fill="#fff" stroke="#b77340" stroke-width="0.95"/>
<circle cx="190.9" cy="672.6575" r="1.75" fill="#fff" stroke="#b77340" stroke-width="0.95"/>
<circle cx="203.55" cy="675.1587499999999" r="1.75" fill="#fff" stroke="#efbf3c" stroke-width="0.95"/>
<circle cx="201.55" cy="680.995" r="1.75" fill="#fff" stroke="#efbf3c" stroke-width="0.95"/>
<circle cx="205.55" cy="680.995" r="1.75" fill="#fff" stroke="#efbf3c" stroke-width="0.95"/>
<circle cx="203.55" cy="684.33" r="1.75" fill="#fff" stroke="#efbf3c" stroke-width="0.95"/>
<line x1="178.55" y1="635.9725" x2="178.55" y2="672.324" stroke="#1f2f55" stroke-width="1.2"/>
<line x1="176.85000000000002" y1="635.9725" x2="180.25" y2="635.9725" stroke="#1f2f55" stroke-width="1.0"/>
<line x1="176.85000000000002" y1="672.324" x2="180.25" y2="672.324" stroke="#1f2f55" stroke-width="1.0"/>
<line x1="190.9" y1="640.9749999999999" x2="190.9" y2="670.6564999999999" stroke="#2b2e38" stroke-width="1.1"/>
<line x1="189.20000000000002" y1="640.9749999999999" x2="192.6" y2="640.9749999999999" stroke="#2b2e38" stroke-width="1.0"/>
<line x1="189.20000000000002" y1="670.6564999999999" x2="192.6" y2="670.6564999999999" stroke="#2b2e38" stroke-width="1.0"/>
<line x1="203.55" y1="675.9925" x2="203.55" y2="682.996" stroke="#2b2e38" stroke-width="1.1"/>
<line x1="201.85000000000002" y1="675.9925" x2="205.25" y2="675.9925" stroke="#2b2e38" stroke-width="1.0"/>
<line x1="201.85000000000002" y1="682.996" x2="205.25" y2="682.996" stroke="#2b2e38" stroke-width="1.0"/>
<line x1="154.6" y1="622" x2="154.6" y2="691.6" stroke="#333" stroke-width="1.3"/>
<line x1="153.1" y1="691" x2="210.2" y2="691" stroke="#333" stroke-width="1.6"/>
<line x1="152.2" y1="691.0" x2="154.6" y2="691.0" stroke="#333" stroke-width="0.9"/>
<text x="148.1" y="693.3" font-size="6.5" text-anchor="end" fill="#444" font-weight="normal" >0</text>
<line x1="152.2" y1="674.325" x2="154.6" y2="674.325" stroke="#333" stroke-width="0.9"/>
<text x="148.1" y="676.625" font-size="6.5" text-anchor="end" fill="#444" font-weight="normal" >100</text>
<line x1="152.2" y1="657.65" x2="154.6" y2="657.65" stroke="#333" stroke-width="0.9"/>
<text x="148.1" y="659.9499999999999" font-size="6.5" text-anchor="end" fill="#444" font-weight="normal" >200</text>
<line x1="152.2" y1="640.9749999999999" x2="154.6" y2="640.9749999999999" stroke="#333" stroke-width="0.9"/>
<text x="148.1" y="643.2749999999999" font-size="6.5" text-anchor="end" fill="#444" font-weight="normal" >300</text>
<line x1="152.2" y1="624.3" x2="154.6" y2="624.3" stroke="#333" stroke-width="0.9"/>
<text x="148.1" y="626.5999999999999" font-size="6.5" text-anchor="end" fill="#444" font-weight="normal" >400</text>
<text x="129.3" y="656.5" font-size="7.9" text-anchor="middle" fill="#333" font-weight="normal" transform="rotate(-90 129.3 656.5)" textLength="37.5" lengthAdjust="spacingAndGlyphs" dominant-baseline="central" stroke="#333" stroke-width="0.28">JON/A+/MFI</text>
<line x1="160.5" y1="605.5" x2="190.4" y2="605.5" stroke="#484848" stroke-width="1.1"/>
<line x1="160.5" y1="602.4" x2="160.5" y2="608.6" stroke="#484848" stroke-width="1.1"/>
<line x1="190.4" y1="602.4" x2="190.4" y2="608.6" stroke="#484848" stroke-width="1.1"/>
<text x="175.45" y="604.6" font-size="6.2" text-anchor="middle" fill="#333" font-weight="bold" >***</text>
<line x1="178.5" y1="614.5" x2="202.8" y2="614.5" stroke="#484848" stroke-width="1.1"/>
<line x1="178.5" y1="611.4" x2="178.5" y2="617.6" stroke="#484848" stroke-width="1.1"/>
<line x1="202.8" y1="611.4" x2="202.8" y2="617.6" stroke="#484848" stroke-width="1.1"/>
<text x="190.65" y="613.6" font-size="6.2" text-anchor="middle" fill="#333" font-weight="bold" >**</text>
<line x1="190.9" y1="622.5" x2="202.8" y2="622.5" stroke="#484848" stroke-width="1.1"/>
<line x1="190.9" y1="619.4" x2="190.9" y2="625.6" stroke="#484848" stroke-width="1.1"/>
<line x1="202.8" y1="619.4" x2="202.8" y2="625.6" stroke="#484848" stroke-width="1.1"/>
<text x="196.85000000000002" y="621.6" font-size="6.2" text-anchor="middle" fill="#333" font-weight="bold" >**</text>
<line x1="160.5" y1="629.5" x2="177.8" y2="629.5" stroke="#484848" stroke-width="1.1"/>
<line x1="160.5" y1="626.4" x2="160.5" y2="632.6" stroke="#484848" stroke-width="1.1"/>
<line x1="177.8" y1="626.4" x2="177.8" y2="632.6" stroke="#484848" stroke-width="1.1"/>
<text x="169.15" y="628.6" font-size="6.2" text-anchor="middle" fill="#333" font-weight="bold" >***</text>
<line x1="173.9" y1="694.6" x2="209.4" y2="694.6" stroke="#555" stroke-width="1.3"/>
<text x="191.65" y="702.8" font-size="6.6" text-anchor="middle" fill="#444" font-weight="normal" >LPS</text>
<rect x="260.4" y="673.8208333333333" width="7.7000000000000455" height="17.179166666666674" fill="#8a8f98" stroke="none" stroke-width="1" />
<rect x="277.4" y="652.2083333333334" width="7.7000000000000455" height="38.79166666666663" fill="#bfdcf5" stroke="none" stroke-width="1" />
<rect x="290.2" y="652.2083333333334" width="7.699999999999989" height="38.79166666666663" fill="#d9a97c" stroke="none" stroke-width="1" />
<rect x="303.1" y="676.8133333333333" width="7.7999999999999545" height="14.186666666666724" fill="#f8dc82" stroke="none" stroke-width="1" />
<circle cx="264.25" cy="661.075" r="1.75" fill="#fff" stroke="#3f444d" stroke-width="0.95"/>
<circle cx="262.25" cy="673.2666666666667" r="1.75" fill="#fff" stroke="#3f444d" stroke-width="0.95"/>
<circle cx="266.25" cy="672.7125" r="1.75" fill="#fff" stroke="#3f444d" stroke-width="0.95"/>
<circle cx="264.25" cy="674.375" r="1.75" fill="#fff" stroke="#3f444d" stroke-width="0.95"/>
<circle cx="281.25" cy="629.4875" r="1.75" fill="#fff" stroke="#4aa9df" stroke-width="0.95"/>
<circle cx="278.25" cy="651.6541666666667" r="1.75" fill="#fff" stroke="#4aa9df" stroke-width="0.95"/>
<circle cx="283.25" cy="653.3166666666667" r="1.75" fill="#fff" stroke="#4aa9df" stroke-width="0.95"/>
<circle cx="285.25" cy="654.425" r="1.75" fill="#fff" stroke="#4aa9df" stroke-width="0.95"/>
<circle cx="281.25" cy="662.1833333333333" r="1.75" fill="#fff" stroke="#4aa9df" stroke-width="0.95"/>
<circle cx="294.04999999999995" cy="640.5708333333333" r="1.75" fill="#fff" stroke="#b77340" stroke-width="0.95"/>
<circle cx="291.04999999999995" cy="644.45" r="1.75" fill="#fff" stroke="#b77340" stroke-width="0.95"/>
<circle cx="297.04999999999995" cy="644.45" r="1.75" fill="#fff" stroke="#b77340" stroke-width="0.95"/>
<circle cx="294.04999999999995" cy="647.775" r="1.75" fill="#fff" stroke="#b77340" stroke-width="0.95"/>
<circle cx="294.04999999999995" cy="657.75" r="1.75" fill="#fff" stroke="#b77340" stroke-width="0.95"/>
<circle cx="294.04999999999995" cy="669.3875" r="1.75" fill="#fff" stroke="#b77340" stroke-width="0.95"/>
<circle cx="307.0" cy="668.2791666666667" r="1.75" fill="#fff" stroke="#efbf3c" stroke-width="0.95"/>
<circle cx="305.5" cy="675.4833333333333" r="1.75" fill="#fff" stroke="#efbf3c" stroke-width="0.95"/>
<line x1="264.25" y1="667.1708333333333" x2="264.25" y2="676.8133333333333" stroke="#2b2e38" stroke-width="1.1"/>
<line x1="262.55" y1="667.1708333333333" x2="265.95" y2="667.1708333333333" stroke="#2b2e38" stroke-width="1.0"/>
<line x1="262.55" y1="676.8133333333333" x2="265.95" y2="676.8133333333333" stroke="#2b2e38" stroke-width="1.0"/>
<line x1="281.25" y1="639.4625" x2="281.25" y2="662.7375" stroke="#2b2e38" stroke-width="1.1"/>
<line x1="279.55" y1="639.4625" x2="282.95" y2="639.4625" stroke="#2b2e38" stroke-width="1.0"/>
<line x1="279.55" y1="662.7375" x2="282.95" y2="662.7375" stroke="#2b2e38" stroke-width="1.0"/>
<line x1="294.04999999999995" y1="640.0166666666667" x2="294.04999999999995" y2="662.7375" stroke="#2b2e38" stroke-width="1.1"/>
<line x1="292.34999999999997" y1="640.0166666666667" x2="295.74999999999994" y2="640.0166666666667" stroke="#2b2e38" stroke-width="1.0"/>
<line x1="292.34999999999997" y1="662.7375" x2="295.74999999999994" y2="662.7375" stroke="#2b2e38" stroke-width="1.0"/>
<line x1="307.0" y1="668.8333333333334" x2="307.0" y2="677.7" stroke="#2b2e38" stroke-width="1.1"/>
<line x1="305.3" y1="668.8333333333334" x2="308.7" y2="668.8333333333334" stroke="#2b2e38" stroke-width="1.0"/>
<line x1="305.3" y1="677.7" x2="308.7" y2="677.7" stroke="#2b2e38" stroke-width="1.0"/>
<line x1="257.4" y1="622" x2="257.4" y2="691.6" stroke="#333" stroke-width="1.3"/>
<line x1="255.89999999999998" y1="691" x2="313.3" y2="691" stroke="#333" stroke-width="1.6"/>
<line x1="254.99999999999997" y1="691.0" x2="257.4" y2="691.0" stroke="#333" stroke-width="0.9"/>
<text x="250.89999999999998" y="693.3" font-size="6.5" text-anchor="end" fill="#444" font-weight="normal" >0</text>
<line x1="254.99999999999997" y1="668.8333333333334" x2="257.4" y2="668.8333333333334" stroke="#333" stroke-width="0.9"/>
<text x="250.89999999999998" y="671.1333333333333" font-size="6.5" text-anchor="end" fill="#444" font-weight="normal" >200</text>
<line x1="254.99999999999997" y1="646.6666666666666" x2="257.4" y2="646.6666666666666" stroke="#333" stroke-width="0.9"/>
<text x="250.89999999999998" y="648.9666666666666" font-size="6.5" text-anchor="end" fill="#444" font-weight="normal" >400</text>
<line x1="254.99999999999997" y1="624.5" x2="257.4" y2="624.5" stroke="#333" stroke-width="0.9"/>
<text x="250.89999999999998" y="626.8" font-size="6.5" text-anchor="end" fill="#444" font-weight="normal" >600</text>
<text x="232.3" y="656.5" font-size="7.9" text-anchor="middle" fill="#333" font-weight="normal" transform="rotate(-90 232.3 656.5)" textLength="36.5" lengthAdjust="spacingAndGlyphs" dominant-baseline="central" stroke="#333" stroke-width="0.28">CD11b+/MFI</text>
<line x1="280.5" y1="605.5" x2="307.5" y2="605.5" stroke="#484848" stroke-width="1.1"/>
<line x1="280.5" y1="602.4" x2="280.5" y2="608.6" stroke="#484848" stroke-width="1.1"/>
<line x1="307.5" y1="602.4" x2="307.5" y2="608.6" stroke="#484848" stroke-width="1.1"/>
<text x="294.0" y="604.6" font-size="6.2" text-anchor="middle" fill="#333" font-weight="bold" >**</text>
<line x1="264.6" y1="614.5" x2="294.4" y2="614.5" stroke="#484848" stroke-width="1.1"/>
<line x1="264.6" y1="611.4" x2="264.6" y2="617.6" stroke="#484848" stroke-width="1.1"/>
<line x1="294.4" y1="611.4" x2="294.4" y2="617.6" stroke="#484848" stroke-width="1.1"/>
<text x="279.5" y="613.6" font-size="6.2" text-anchor="middle" fill="#333" font-weight="bold" >***</text>
<line x1="264.6" y1="622.5" x2="281.2" y2="622.5" stroke="#484848" stroke-width="1.1"/>
<line x1="264.6" y1="619.4" x2="264.6" y2="625.6" stroke="#484848" stroke-width="1.1"/>
<line x1="281.2" y1="619.4" x2="281.2" y2="625.6" stroke="#484848" stroke-width="1.1"/>
<text x="272.9" y="621.6" font-size="6.2" text-anchor="middle" fill="#333" font-weight="bold" >***</text>
<line x1="294.4" y1="622.5" x2="306.7" y2="622.5" stroke="#484848" stroke-width="1.1"/>
<line x1="294.4" y1="619.4" x2="294.4" y2="625.6" stroke="#484848" stroke-width="1.1"/>
<line x1="306.7" y1="619.4" x2="306.7" y2="625.6" stroke="#484848" stroke-width="1.1"/>
<text x="300.54999999999995" y="621.6" font-size="6.2" text-anchor="middle" fill="#333" font-weight="bold" >**</text>
<line x1="277.8" y1="694.6" x2="312.9" y2="694.6" stroke="#555" stroke-width="1.3"/>
<text x="295.35" y="702.8" font-size="6.6" text-anchor="middle" fill="#444" font-weight="normal" >LPS</text>
<rect x="367" y="678.3472" width="7.699999999999989" height="12.652799999999957" fill="#8a8f98" stroke="none" stroke-width="1" />
<rect x="383.9" y="655.1504" width="7.7000000000000455" height="35.84960000000001" fill="#bfdcf5" stroke="none" stroke-width="1" />
<rect x="397" y="665.1672" width="7.800000000000011" height="25.83280000000002" fill="#d9a97c" stroke="none" stroke-width="1" />
<rect x="409.4" y="684.8054" width="7.7000000000000455" height="6.194600000000037" fill="#f8dc82" stroke="none" stroke-width="1" />
<circle cx="370.85" cy="675.184" r="1.75" fill="#fff" stroke="#3f444d" stroke-width="0.95"/>
<circle cx="368.85" cy="680.456" r="1.75" fill="#fff" stroke="#3f444d" stroke-width="0.95"/>
<circle cx="372.85" cy="681.774" r="1.75" fill="#fff" stroke="#3f444d" stroke-width="0.95"/>
<circle cx="370.85" cy="683.092" r="1.75" fill="#fff" stroke="#3f444d" stroke-width="0.95"/>
<circle cx="368.85" cy="684.41" r="1.75" fill="#fff" stroke="#3f444d" stroke-width="0.95"/>
<circle cx="384.75" cy="646.188" r="1.75" fill="#fff" stroke="#4aa9df" stroke-width="0.95"/>
<circle cx="390.75" cy="643.552" r="1.75" fill="#fff" stroke="#4aa9df" stroke-width="0.95"/>
<circle cx="387.75" cy="640.916" r="1.75" fill="#fff" stroke="#4aa9df" stroke-width="0.95"/>
<circle cx="387.75" cy="672.548" r="1.75" fill="#fff" stroke="#4aa9df" stroke-width="0.95"/>
<circle cx="400.9" cy="649.3512000000001" r="1.75" fill="#fff" stroke="#b77340" stroke-width="0.95"/>
<circle cx="397.9" cy="665.958" r="1.75" fill="#fff" stroke="#b77340" stroke-width="0.95"/>
<circle cx="403.9" cy="665.958" r="1.75" fill="#fff" stroke="#b77340" stroke-width="0.95"/>
<circle cx="400.9" cy="669.912" r="1.75" fill="#fff" stroke="#b77340" stroke-width="0.95"/>
<circle cx="413.25" cy="683.092" r="1.75" fill="#fff" stroke="#efbf3c" stroke-width="0.95"/>
<circle cx="411.25" cy="684.41" r="1.75" fill="#fff" stroke="#efbf3c" stroke-width="0.95"/>
<circle cx="415.25" cy="684.41" r="1.75" fill="#fff" stroke="#efbf3c" stroke-width="0.95"/>
<line x1="370.85" y1="675.9748" x2="370.85" y2="684.41" stroke="#2b2e38" stroke-width="1.1"/>
<line x1="369.15000000000003" y1="675.9748" x2="372.55" y2="675.9748" stroke="#2b2e38" stroke-width="1.0"/>
<line x1="369.15000000000003" y1="684.41" x2="372.55" y2="684.41" stroke="#2b2e38" stroke-width="1.0"/>
<line x1="387.75" y1="639.5980000000001" x2="387.75" y2="670.4392" stroke="#2b2e38" stroke-width="1.1"/>
<line x1="386.05" y1="639.5980000000001" x2="389.45" y2="639.5980000000001" stroke="#2b2e38" stroke-width="1.0"/>
<line x1="386.05" y1="670.4392" x2="389.45" y2="670.4392" stroke="#2b2e38" stroke-width="1.0"/>
<line x1="400.9" y1="655.9412" x2="400.9" y2="673.0752" stroke="#2b2e38" stroke-width="1.1"/>
<line x1="399.2" y1="655.9412" x2="402.59999999999997" y2="655.9412" stroke="#2b2e38" stroke-width="1.0"/>
<line x1="399.2" y1="673.0752" x2="402.59999999999997" y2="673.0752" stroke="#2b2e38" stroke-width="1.0"/>
<line x1="413.25" y1="681.2468" x2="413.25" y2="684.1464" stroke="#2b2e38" stroke-width="1.1"/>
<line x1="411.55" y1="681.2468" x2="414.95" y2="681.2468" stroke="#2b2e38" stroke-width="1.0"/>
<line x1="411.55" y1="684.1464" x2="414.95" y2="684.1464" stroke="#2b2e38" stroke-width="1.0"/>
<line x1="364.6" y1="622.5" x2="364.6" y2="691.6" stroke="#333" stroke-width="1.3"/>
<line x1="363.1" y1="691" x2="419.4" y2="691" stroke="#333" stroke-width="1.6"/>
<line x1="362.20000000000005" y1="691.0" x2="364.6" y2="691.0" stroke="#333" stroke-width="0.9"/>
<text x="358.1" y="693.3" font-size="6.5" text-anchor="end" fill="#444" font-weight="normal" >0</text>
<line x1="362.20000000000005" y1="677.82" x2="364.6" y2="677.82" stroke="#333" stroke-width="0.9"/>
<text x="358.1" y="680.12" font-size="6.5" text-anchor="end" fill="#444" font-weight="normal" >500</text>
<line x1="362.20000000000005" y1="664.64" x2="364.6" y2="664.64" stroke="#333" stroke-width="0.9"/>
<text x="358.1" y="666.9399999999999" font-size="6.5" text-anchor="end" fill="#444" font-weight="normal" >1000</text>
<line x1="362.20000000000005" y1="651.46" x2="364.6" y2="651.46" stroke="#333" stroke-width="0.9"/>
<text x="358.1" y="653.76" font-size="6.5" text-anchor="end" fill="#444" font-weight="normal" >1500</text>
<line x1="362.20000000000005" y1="638.28" x2="364.6" y2="638.28" stroke="#333" stroke-width="0.9"/>
<text x="358.1" y="640.5799999999999" font-size="6.5" text-anchor="end" fill="#444" font-weight="normal" >2000</text>
<line x1="362.20000000000005" y1="625.1" x2="364.6" y2="625.1" stroke="#333" stroke-width="0.9"/>
<text x="358.1" y="627.4" font-size="6.5" text-anchor="end" fill="#444" font-weight="normal" >2500</text>
<text x="333.6" y="656.75" font-size="7.9" text-anchor="middle" fill="#333" font-weight="normal" transform="rotate(-90 333.6 656.75)" textLength="55" lengthAdjust="spacingAndGlyphs" dominant-baseline="central" stroke="#333" stroke-width="0.28">CD42b+/MFI (FITC)</text>
<line x1="387.5" y1="614.5" x2="413.2" y2="614.5" stroke="#484848" stroke-width="1.1"/>
<line x1="387.5" y1="611.4" x2="387.5" y2="617.6" stroke="#484848" stroke-width="1.1"/>
<line x1="413.2" y1="611.4" x2="413.2" y2="617.6" stroke="#484848" stroke-width="1.1"/>
<text x="400.35" y="613.6" font-size="6.2" text-anchor="middle" fill="#333" font-weight="bold" >**</text>
<line x1="370.5" y1="623.5" x2="400.4" y2="623.5" stroke="#484848" stroke-width="1.1"/>
<line x1="370.5" y1="620.4" x2="370.5" y2="626.6" stroke="#484848" stroke-width="1.1"/>
<line x1="400.4" y1="620.4" x2="400.4" y2="626.6" stroke="#484848" stroke-width="1.1"/>
<text x="385.45" y="622.6" font-size="6.2" text-anchor="middle" fill="#333" font-weight="bold" >***</text>
<line x1="370.5" y1="632.5" x2="387.8" y2="632.5" stroke="#484848" stroke-width="1.1"/>
<line x1="370.5" y1="629.4" x2="370.5" y2="635.6" stroke="#484848" stroke-width="1.1"/>
<line x1="387.8" y1="629.4" x2="387.8" y2="635.6" stroke="#484848" stroke-width="1.1"/>
<text x="379.15" y="631.6" font-size="6.2" text-anchor="middle" fill="#333" font-weight="bold" >***</text>
<line x1="400.4" y1="632.5" x2="413.2" y2="632.5" stroke="#484848" stroke-width="1.1"/>
<line x1="400.4" y1="629.4" x2="400.4" y2="635.6" stroke="#484848" stroke-width="1.1"/>
<line x1="413.2" y1="629.4" x2="413.2" y2="635.6" stroke="#484848" stroke-width="1.1"/>
<text x="406.79999999999995" y="631.6" font-size="6.2" text-anchor="middle" fill="#333" font-weight="bold" >***</text>
<line x1="383.1" y1="694.6" x2="416.3" y2="694.6" stroke="#555" stroke-width="1.3"/>
<text x="399.70000000000005" y="702.8" font-size="6.6" text-anchor="middle" fill="#444" font-weight="normal" >LPS</text>
<circle cx="437.7" cy="603.5" r="2.3" fill="#fff" stroke="#3f444d" stroke-width="1.1"/>
<text x="443.5" y="606.0" font-size="6.8" text-anchor="start" fill="#333" font-weight="normal" textLength="16.5" lengthAdjust="spacingAndGlyphs" >Sham</text>
<circle cx="437.7" cy="613.7" r="2.3" fill="#fff" stroke="#4aa9df" stroke-width="1.1"/>
<text x="443.5" y="616.2" font-size="6.8" text-anchor="start" fill="#333" font-weight="normal" textLength="9.5" lengthAdjust="spacingAndGlyphs" >WT</text>
<circle cx="437.7" cy="624" r="2.3" fill="#fff" stroke="#b77340" stroke-width="1.1"/>
<text x="443.5" y="626.5" font-size="6.8" text-anchor="start" fill="#333" font-weight="normal" textLength="25.5" lengthAdjust="spacingAndGlyphs" >WT + IgG</text>
<circle cx="437.7" cy="634.2" r="2.3" fill="#fff" stroke="#efbf3c" stroke-width="1.1"/>
<text x="443.5" y="636.7" font-size="6.8" text-anchor="start" fill="#333" font-weight="normal" textLength="53.5" lengthAdjust="spacingAndGlyphs" >WT + anti-Sema7A</text>
</svg></body></html>
